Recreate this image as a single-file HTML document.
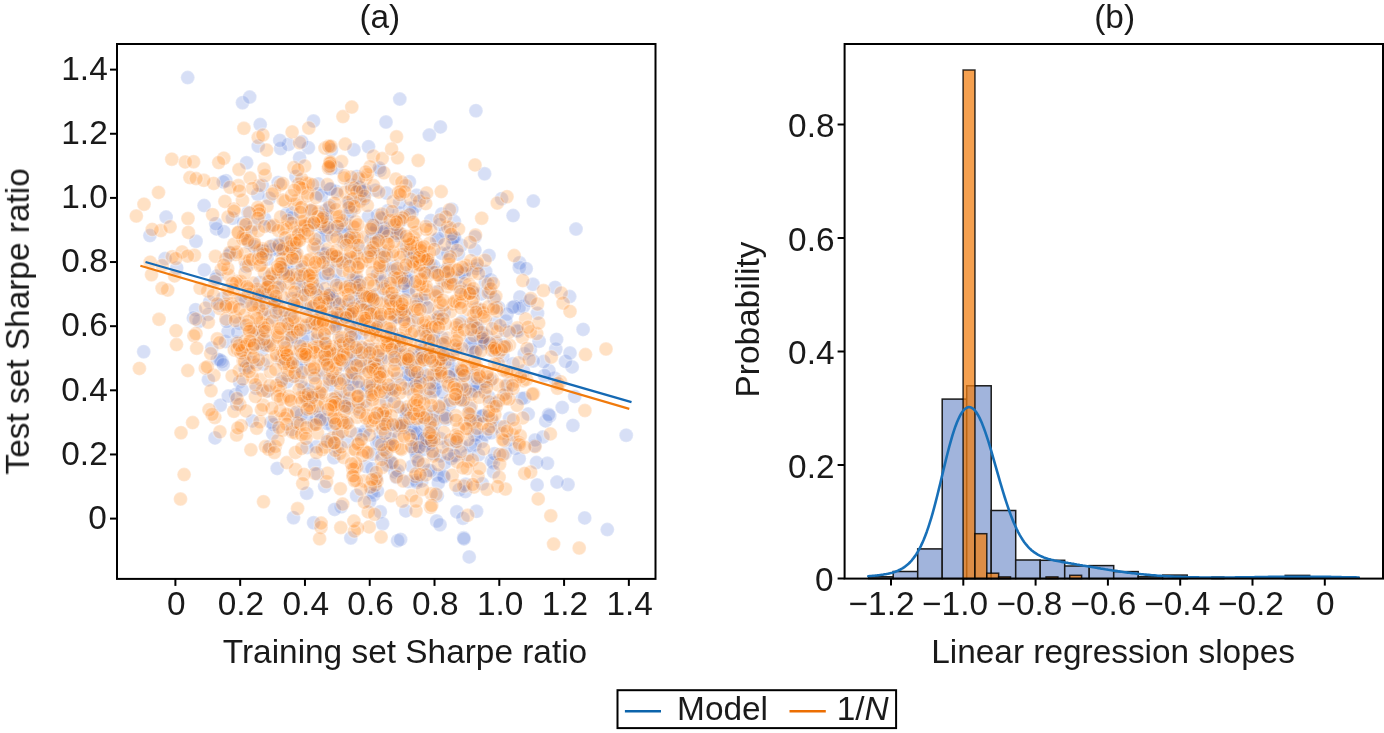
<!DOCTYPE html>
<html><head><meta charset="utf-8"><style>
html,body{margin:0;padding:0;background:#fff;overflow:hidden;}
svg{display:block;}
text{font-family:"Liberation Sans",sans-serif;font-size:33.4px;fill:#1a1a1a;}
</style></head><body>
<svg width="1384" height="733" viewBox="0 0 1384 733">
<defs><filter id="soft" x="0" y="0" width="1" height="1"><feGaussianBlur stdDeviation="0.6"/></filter><clipPath id="clipA"><rect x="117.0" y="44.0" width="538.5" height="534.9"/></clipPath></defs>
<g clip-path="url(#clipA)"><g filter="url(#soft)">
<g fill="rgb(60,100,210)" fill-opacity="0.2" stroke="#fff" stroke-opacity="0.25" stroke-width="1.3">
<circle cx="246.3" cy="266.4" r="7.0"/>
<circle cx="336.2" cy="191.4" r="7.0"/>
<circle cx="517.8" cy="331.4" r="7.0"/>
<circle cx="485.4" cy="434.4" r="7.0"/>
<circle cx="325.8" cy="229.0" r="7.0"/>
<circle cx="583.1" cy="329.4" r="7.0"/>
<circle cx="301.2" cy="230.5" r="7.0"/>
<circle cx="476.5" cy="511.3" r="7.0"/>
<circle cx="443.3" cy="344.4" r="7.0"/>
<circle cx="519.6" cy="262.8" r="7.0"/>
<circle cx="461.2" cy="245.3" r="7.0"/>
<circle cx="356.3" cy="279.8" r="7.0"/>
<circle cx="436.6" cy="521.0" r="7.0"/>
<circle cx="415.1" cy="451.0" r="7.0"/>
<circle cx="477.3" cy="265.2" r="7.0"/>
<circle cx="486.7" cy="336.1" r="7.0"/>
<circle cx="392.3" cy="227.0" r="7.0"/>
<circle cx="326.4" cy="235.5" r="7.0"/>
<circle cx="331.4" cy="150.1" r="7.0"/>
<circle cx="256.3" cy="388.3" r="7.0"/>
<circle cx="277.3" cy="250.1" r="7.0"/>
<circle cx="443.3" cy="271.2" r="7.0"/>
<circle cx="555.1" cy="287.4" r="7.0"/>
<circle cx="281.9" cy="379.0" r="7.0"/>
<circle cx="490.0" cy="291.9" r="7.0"/>
<circle cx="554.6" cy="378.2" r="7.0"/>
<circle cx="321.8" cy="277.9" r="7.0"/>
<circle cx="394.9" cy="471.8" r="7.0"/>
<circle cx="360.2" cy="196.4" r="7.0"/>
<circle cx="524.3" cy="353.8" r="7.0"/>
<circle cx="410.4" cy="429.0" r="7.0"/>
<circle cx="417.9" cy="446.8" r="7.0"/>
<circle cx="366.6" cy="363.4" r="7.0"/>
<circle cx="548.9" cy="370.6" r="7.0"/>
<circle cx="482.3" cy="483.8" r="7.0"/>
<circle cx="462.2" cy="400.4" r="7.0"/>
<circle cx="532.9" cy="284.3" r="7.0"/>
<circle cx="405.8" cy="315.7" r="7.0"/>
<circle cx="379.8" cy="415.3" r="7.0"/>
<circle cx="485.4" cy="382.7" r="7.0"/>
<circle cx="421.0" cy="298.7" r="7.0"/>
<circle cx="242.5" cy="102.7" r="7.0"/>
<circle cx="400.6" cy="221.1" r="7.0"/>
<circle cx="359.2" cy="322.4" r="7.0"/>
<circle cx="401.7" cy="308.8" r="7.0"/>
<circle cx="411.4" cy="363.5" r="7.0"/>
<circle cx="448.5" cy="445.4" r="7.0"/>
<circle cx="398.2" cy="280.8" r="7.0"/>
<circle cx="422.4" cy="439.0" r="7.0"/>
<circle cx="337.4" cy="227.1" r="7.0"/>
<circle cx="362.4" cy="293.5" r="7.0"/>
<circle cx="379.2" cy="238.8" r="7.0"/>
<circle cx="298.3" cy="377.7" r="7.0"/>
<circle cx="443.4" cy="403.7" r="7.0"/>
<circle cx="312.0" cy="396.3" r="7.0"/>
<circle cx="434.8" cy="423.8" r="7.0"/>
<circle cx="509.6" cy="418.3" r="7.0"/>
<circle cx="482.7" cy="332.7" r="7.0"/>
<circle cx="346.6" cy="314.9" r="7.0"/>
<circle cx="302.0" cy="296.0" r="7.0"/>
<circle cx="523.6" cy="306.3" r="7.0"/>
<circle cx="425.5" cy="393.4" r="7.0"/>
<circle cx="199.2" cy="321.2" r="7.0"/>
<circle cx="433.5" cy="336.0" r="7.0"/>
<circle cx="407.1" cy="367.2" r="7.0"/>
<circle cx="377.0" cy="443.2" r="7.0"/>
<circle cx="505.2" cy="453.1" r="7.0"/>
<circle cx="314.6" cy="375.3" r="7.0"/>
<circle cx="216.9" cy="276.1" r="7.0"/>
<circle cx="334.5" cy="321.5" r="7.0"/>
<circle cx="343.5" cy="241.9" r="7.0"/>
<circle cx="225.4" cy="341.6" r="7.0"/>
<circle cx="435.2" cy="389.8" r="7.0"/>
<circle cx="424.4" cy="271.1" r="7.0"/>
<circle cx="329.9" cy="360.3" r="7.0"/>
<circle cx="475.4" cy="322.4" r="7.0"/>
<circle cx="445.8" cy="419.6" r="7.0"/>
<circle cx="440.4" cy="126.9" r="7.0"/>
<circle cx="381.2" cy="234.0" r="7.0"/>
<circle cx="305.4" cy="276.4" r="7.0"/>
<circle cx="419.7" cy="440.5" r="7.0"/>
<circle cx="334.0" cy="300.4" r="7.0"/>
<circle cx="254.5" cy="224.6" r="7.0"/>
<circle cx="304.9" cy="285.8" r="7.0"/>
<circle cx="443.2" cy="475.9" r="7.0"/>
<circle cx="446.7" cy="417.1" r="7.0"/>
<circle cx="476.3" cy="268.6" r="7.0"/>
<circle cx="374.2" cy="250.7" r="7.0"/>
<circle cx="316.5" cy="446.7" r="7.0"/>
<circle cx="371.6" cy="492.3" r="7.0"/>
<circle cx="402.3" cy="285.7" r="7.0"/>
<circle cx="504.7" cy="345.0" r="7.0"/>
<circle cx="355.3" cy="378.7" r="7.0"/>
<circle cx="377.8" cy="215.2" r="7.0"/>
<circle cx="351.1" cy="184.9" r="7.0"/>
<circle cx="304.2" cy="359.9" r="7.0"/>
<circle cx="333.8" cy="457.7" r="7.0"/>
<circle cx="419.2" cy="258.1" r="7.0"/>
<circle cx="451.3" cy="370.8" r="7.0"/>
<circle cx="366.2" cy="466.6" r="7.0"/>
<circle cx="413.6" cy="448.2" r="7.0"/>
<circle cx="327.5" cy="439.9" r="7.0"/>
<circle cx="350.8" cy="538.0" r="7.0"/>
<circle cx="430.7" cy="265.3" r="7.0"/>
<circle cx="461.6" cy="446.1" r="7.0"/>
<circle cx="440.2" cy="438.5" r="7.0"/>
<circle cx="372.1" cy="304.0" r="7.0"/>
<circle cx="505.4" cy="330.8" r="7.0"/>
<circle cx="405.5" cy="277.4" r="7.0"/>
<circle cx="209.7" cy="302.0" r="7.0"/>
<circle cx="380.9" cy="253.1" r="7.0"/>
<circle cx="338.3" cy="318.8" r="7.0"/>
<circle cx="456.8" cy="511.8" r="7.0"/>
<circle cx="365.2" cy="304.4" r="7.0"/>
<circle cx="245.8" cy="232.8" r="7.0"/>
<circle cx="568.0" cy="484.5" r="7.0"/>
<circle cx="220.3" cy="405.2" r="7.0"/>
<circle cx="499.6" cy="426.8" r="7.0"/>
<circle cx="455.9" cy="369.2" r="7.0"/>
<circle cx="394.5" cy="350.2" r="7.0"/>
<circle cx="317.8" cy="247.1" r="7.0"/>
<circle cx="442.0" cy="337.7" r="7.0"/>
<circle cx="572.9" cy="425.4" r="7.0"/>
<circle cx="345.7" cy="224.1" r="7.0"/>
<circle cx="386.9" cy="465.0" r="7.0"/>
<circle cx="264.6" cy="218.7" r="7.0"/>
<circle cx="399.8" cy="99.1" r="7.0"/>
<circle cx="463.7" cy="537.8" r="7.0"/>
<circle cx="464.0" cy="391.0" r="7.0"/>
<circle cx="381.7" cy="218.8" r="7.0"/>
<circle cx="429.9" cy="444.0" r="7.0"/>
<circle cx="380.4" cy="432.8" r="7.0"/>
<circle cx="475.2" cy="375.6" r="7.0"/>
<circle cx="404.2" cy="427.6" r="7.0"/>
<circle cx="430.8" cy="220.4" r="7.0"/>
<circle cx="308.3" cy="291.0" r="7.0"/>
<circle cx="397.3" cy="235.4" r="7.0"/>
<circle cx="318.4" cy="183.9" r="7.0"/>
<circle cx="537.1" cy="484.9" r="7.0"/>
<circle cx="314.0" cy="423.6" r="7.0"/>
<circle cx="409.5" cy="380.1" r="7.0"/>
<circle cx="358.4" cy="409.0" r="7.0"/>
<circle cx="372.9" cy="454.3" r="7.0"/>
<circle cx="470.8" cy="418.9" r="7.0"/>
<circle cx="360.4" cy="189.8" r="7.0"/>
<circle cx="320.2" cy="418.1" r="7.0"/>
<circle cx="244.5" cy="353.7" r="7.0"/>
<circle cx="280.5" cy="359.0" r="7.0"/>
<circle cx="239.6" cy="381.9" r="7.0"/>
<circle cx="448.9" cy="376.5" r="7.0"/>
<circle cx="228.1" cy="331.6" r="7.0"/>
<circle cx="410.9" cy="259.6" r="7.0"/>
<circle cx="262.4" cy="349.8" r="7.0"/>
<circle cx="149.9" cy="235.6" r="7.0"/>
<circle cx="363.1" cy="434.7" r="7.0"/>
<circle cx="545.7" cy="420.9" r="7.0"/>
<circle cx="318.8" cy="394.1" r="7.0"/>
<circle cx="380.0" cy="372.3" r="7.0"/>
<circle cx="269.8" cy="446.4" r="7.0"/>
<circle cx="495.5" cy="323.2" r="7.0"/>
<circle cx="481.3" cy="293.9" r="7.0"/>
<circle cx="498.8" cy="307.6" r="7.0"/>
<circle cx="258.7" cy="337.8" r="7.0"/>
<circle cx="310.8" cy="223.4" r="7.0"/>
<circle cx="368.8" cy="252.4" r="7.0"/>
<circle cx="444.2" cy="312.7" r="7.0"/>
<circle cx="359.8" cy="368.3" r="7.0"/>
<circle cx="353.2" cy="355.2" r="7.0"/>
<circle cx="349.9" cy="363.8" r="7.0"/>
<circle cx="488.8" cy="397.0" r="7.0"/>
<circle cx="534.7" cy="445.8" r="7.0"/>
<circle cx="408.0" cy="410.5" r="7.0"/>
<circle cx="351.3" cy="234.3" r="7.0"/>
<circle cx="221.9" cy="361.4" r="7.0"/>
<circle cx="404.6" cy="420.0" r="7.0"/>
<circle cx="477.1" cy="434.5" r="7.0"/>
<circle cx="299.4" cy="344.4" r="7.0"/>
<circle cx="208.2" cy="314.4" r="7.0"/>
<circle cx="416.5" cy="456.5" r="7.0"/>
<circle cx="412.0" cy="466.3" r="7.0"/>
<circle cx="481.5" cy="441.8" r="7.0"/>
<circle cx="436.7" cy="240.1" r="7.0"/>
<circle cx="259.0" cy="252.8" r="7.0"/>
<circle cx="421.4" cy="416.8" r="7.0"/>
<circle cx="501.6" cy="198.7" r="7.0"/>
<circle cx="361.9" cy="333.6" r="7.0"/>
<circle cx="502.8" cy="356.3" r="7.0"/>
<circle cx="347.4" cy="214.6" r="7.0"/>
<circle cx="382.7" cy="232.4" r="7.0"/>
<circle cx="528.2" cy="414.1" r="7.0"/>
<circle cx="208.4" cy="379.7" r="7.0"/>
<circle cx="454.5" cy="238.2" r="7.0"/>
<circle cx="368.5" cy="216.6" r="7.0"/>
<circle cx="441.7" cy="214.0" r="7.0"/>
<circle cx="236.9" cy="341.9" r="7.0"/>
<circle cx="408.3" cy="481.6" r="7.0"/>
<circle cx="371.9" cy="468.7" r="7.0"/>
<circle cx="480.8" cy="338.3" r="7.0"/>
<circle cx="399.7" cy="425.0" r="7.0"/>
<circle cx="371.1" cy="349.2" r="7.0"/>
<circle cx="416.3" cy="480.5" r="7.0"/>
<circle cx="462.9" cy="518.2" r="7.0"/>
<circle cx="324.3" cy="216.1" r="7.0"/>
<circle cx="252.3" cy="420.9" r="7.0"/>
<circle cx="555.8" cy="349.2" r="7.0"/>
<circle cx="327.8" cy="224.8" r="7.0"/>
<circle cx="572.2" cy="366.9" r="7.0"/>
<circle cx="278.2" cy="182.4" r="7.0"/>
<circle cx="302.3" cy="339.7" r="7.0"/>
<circle cx="415.6" cy="359.9" r="7.0"/>
<circle cx="449.8" cy="404.5" r="7.0"/>
<circle cx="519.9" cy="296.9" r="7.0"/>
<circle cx="355.4" cy="359.0" r="7.0"/>
<circle cx="328.4" cy="256.3" r="7.0"/>
<circle cx="370.8" cy="239.7" r="7.0"/>
<circle cx="342.4" cy="305.4" r="7.0"/>
<circle cx="409.7" cy="252.0" r="7.0"/>
<circle cx="433.7" cy="265.7" r="7.0"/>
<circle cx="427.1" cy="261.1" r="7.0"/>
<circle cx="414.9" cy="382.5" r="7.0"/>
<circle cx="217.5" cy="359.2" r="7.0"/>
<circle cx="530.4" cy="349.7" r="7.0"/>
<circle cx="376.3" cy="294.8" r="7.0"/>
<circle cx="296.0" cy="412.8" r="7.0"/>
<circle cx="317.3" cy="290.1" r="7.0"/>
<circle cx="176.7" cy="268.0" r="7.0"/>
<circle cx="389.5" cy="232.3" r="7.0"/>
<circle cx="439.1" cy="351.2" r="7.0"/>
<circle cx="395.3" cy="352.9" r="7.0"/>
<circle cx="376.4" cy="478.4" r="7.0"/>
<circle cx="505.8" cy="321.3" r="7.0"/>
<circle cx="285.4" cy="360.8" r="7.0"/>
<circle cx="295.7" cy="328.7" r="7.0"/>
<circle cx="338.1" cy="378.4" r="7.0"/>
<circle cx="413.0" cy="320.4" r="7.0"/>
<circle cx="492.3" cy="421.0" r="7.0"/>
<circle cx="397.6" cy="540.8" r="7.0"/>
<circle cx="356.6" cy="495.5" r="7.0"/>
<circle cx="330.0" cy="301.6" r="7.0"/>
<circle cx="245.7" cy="301.2" r="7.0"/>
<circle cx="491.1" cy="345.1" r="7.0"/>
<circle cx="416.3" cy="432.4" r="7.0"/>
<circle cx="358.2" cy="247.5" r="7.0"/>
<circle cx="215.0" cy="437.9" r="7.0"/>
<circle cx="574.7" cy="396.4" r="7.0"/>
<circle cx="507.8" cy="385.1" r="7.0"/>
<circle cx="439.8" cy="224.4" r="7.0"/>
<circle cx="265.1" cy="294.9" r="7.0"/>
<circle cx="220.1" cy="359.9" r="7.0"/>
<circle cx="254.4" cy="329.8" r="7.0"/>
<circle cx="318.1" cy="193.7" r="7.0"/>
<circle cx="232.5" cy="218.3" r="7.0"/>
<circle cx="454.3" cy="221.4" r="7.0"/>
<circle cx="373.3" cy="388.0" r="7.0"/>
<circle cx="447.3" cy="268.9" r="7.0"/>
<circle cx="287.0" cy="270.4" r="7.0"/>
<circle cx="445.3" cy="231.9" r="7.0"/>
<circle cx="626.2" cy="435.2" r="7.0"/>
<circle cx="329.9" cy="385.0" r="7.0"/>
<circle cx="350.8" cy="327.5" r="7.0"/>
<circle cx="378.8" cy="317.7" r="7.0"/>
<circle cx="317.1" cy="288.9" r="7.0"/>
<circle cx="422.6" cy="350.0" r="7.0"/>
<circle cx="482.2" cy="339.0" r="7.0"/>
<circle cx="373.6" cy="495.0" r="7.0"/>
<circle cx="419.1" cy="354.2" r="7.0"/>
<circle cx="222.7" cy="298.4" r="7.0"/>
<circle cx="576.0" cy="229.1" r="7.0"/>
<circle cx="396.3" cy="477.2" r="7.0"/>
<circle cx="465.8" cy="484.3" r="7.0"/>
<circle cx="291.4" cy="338.3" r="7.0"/>
<circle cx="272.6" cy="249.5" r="7.0"/>
<circle cx="358.9" cy="186.9" r="7.0"/>
<circle cx="292.3" cy="212.9" r="7.0"/>
<circle cx="325.5" cy="304.0" r="7.0"/>
<circle cx="406.3" cy="246.0" r="7.0"/>
<circle cx="334.8" cy="328.2" r="7.0"/>
<circle cx="398.1" cy="317.0" r="7.0"/>
<circle cx="294.7" cy="252.8" r="7.0"/>
<circle cx="337.2" cy="353.2" r="7.0"/>
<circle cx="368.4" cy="297.8" r="7.0"/>
<circle cx="475.0" cy="237.0" r="7.0"/>
<circle cx="399.1" cy="213.0" r="7.0"/>
<circle cx="339.1" cy="352.5" r="7.0"/>
<circle cx="416.6" cy="444.2" r="7.0"/>
<circle cx="359.7" cy="282.3" r="7.0"/>
<circle cx="473.0" cy="422.9" r="7.0"/>
<circle cx="569.7" cy="296.6" r="7.0"/>
<circle cx="491.4" cy="460.8" r="7.0"/>
<circle cx="584.7" cy="517.9" r="7.0"/>
<circle cx="317.5" cy="340.2" r="7.0"/>
<circle cx="355.1" cy="282.6" r="7.0"/>
<circle cx="416.8" cy="358.1" r="7.0"/>
<circle cx="296.0" cy="176.4" r="7.0"/>
<circle cx="437.2" cy="475.0" r="7.0"/>
<circle cx="459.2" cy="489.7" r="7.0"/>
<circle cx="422.5" cy="255.8" r="7.0"/>
<circle cx="493.4" cy="462.7" r="7.0"/>
<circle cx="348.3" cy="316.5" r="7.0"/>
<circle cx="297.2" cy="421.3" r="7.0"/>
<circle cx="309.4" cy="401.3" r="7.0"/>
<circle cx="307.9" cy="336.3" r="7.0"/>
<circle cx="543.7" cy="361.6" r="7.0"/>
<circle cx="348.9" cy="400.3" r="7.0"/>
<circle cx="219.9" cy="305.1" r="7.0"/>
<circle cx="444.2" cy="281.7" r="7.0"/>
<circle cx="400.2" cy="407.2" r="7.0"/>
<circle cx="437.3" cy="495.7" r="7.0"/>
<circle cx="416.7" cy="195.3" r="7.0"/>
<circle cx="415.6" cy="206.2" r="7.0"/>
<circle cx="235.7" cy="394.4" r="7.0"/>
<circle cx="291.3" cy="315.0" r="7.0"/>
<circle cx="460.0" cy="287.6" r="7.0"/>
<circle cx="335.7" cy="271.1" r="7.0"/>
<circle cx="365.4" cy="391.1" r="7.0"/>
<circle cx="404.9" cy="354.1" r="7.0"/>
<circle cx="356.9" cy="176.4" r="7.0"/>
<circle cx="271.0" cy="317.3" r="7.0"/>
<circle cx="467.1" cy="269.2" r="7.0"/>
<circle cx="372.4" cy="233.2" r="7.0"/>
<circle cx="333.2" cy="280.3" r="7.0"/>
<circle cx="378.6" cy="321.4" r="7.0"/>
<circle cx="470.2" cy="445.3" r="7.0"/>
<circle cx="444.5" cy="415.1" r="7.0"/>
<circle cx="455.3" cy="455.8" r="7.0"/>
<circle cx="562.2" cy="407.4" r="7.0"/>
<circle cx="565.5" cy="361.4" r="7.0"/>
<circle cx="391.9" cy="395.4" r="7.0"/>
<circle cx="303.2" cy="370.2" r="7.0"/>
<circle cx="433.8" cy="391.4" r="7.0"/>
<circle cx="262.8" cy="251.3" r="7.0"/>
<circle cx="483.2" cy="343.8" r="7.0"/>
<circle cx="397.9" cy="470.8" r="7.0"/>
<circle cx="365.9" cy="352.0" r="7.0"/>
<circle cx="246.6" cy="162.8" r="7.0"/>
<circle cx="448.0" cy="359.0" r="7.0"/>
<circle cx="313.6" cy="522.8" r="7.0"/>
<circle cx="380.3" cy="511.8" r="7.0"/>
<circle cx="262.4" cy="330.1" r="7.0"/>
<circle cx="308.4" cy="147.7" r="7.0"/>
<circle cx="316.8" cy="417.4" r="7.0"/>
<circle cx="408.8" cy="289.3" r="7.0"/>
<circle cx="344.9" cy="234.4" r="7.0"/>
<circle cx="332.3" cy="426.1" r="7.0"/>
<circle cx="308.5" cy="389.8" r="7.0"/>
<circle cx="444.0" cy="476.8" r="7.0"/>
<circle cx="262.0" cy="292.5" r="7.0"/>
<circle cx="493.5" cy="471.7" r="7.0"/>
<circle cx="351.5" cy="345.4" r="7.0"/>
<circle cx="340.2" cy="258.9" r="7.0"/>
<circle cx="397.6" cy="299.2" r="7.0"/>
<circle cx="291.3" cy="429.5" r="7.0"/>
<circle cx="444.5" cy="353.8" r="7.0"/>
<circle cx="423.4" cy="330.9" r="7.0"/>
<circle cx="477.5" cy="308.3" r="7.0"/>
<circle cx="515.1" cy="448.2" r="7.0"/>
<circle cx="495.9" cy="403.1" r="7.0"/>
<circle cx="216.5" cy="228.9" r="7.0"/>
<circle cx="469.2" cy="556.9" r="7.0"/>
<circle cx="314.6" cy="464.3" r="7.0"/>
<circle cx="361.8" cy="348.1" r="7.0"/>
<circle cx="332.4" cy="380.5" r="7.0"/>
<circle cx="494.5" cy="453.8" r="7.0"/>
<circle cx="319.7" cy="300.1" r="7.0"/>
<circle cx="165.1" cy="258.6" r="7.0"/>
<circle cx="269.3" cy="198.2" r="7.0"/>
<circle cx="519.2" cy="458.8" r="7.0"/>
<circle cx="336.9" cy="167.8" r="7.0"/>
<circle cx="282.4" cy="269.2" r="7.0"/>
<circle cx="433.4" cy="383.4" r="7.0"/>
<circle cx="236.9" cy="404.3" r="7.0"/>
<circle cx="272.7" cy="433.6" r="7.0"/>
<circle cx="405.8" cy="510.9" r="7.0"/>
<circle cx="478.1" cy="327.8" r="7.0"/>
<circle cx="399.2" cy="233.5" r="7.0"/>
<circle cx="389.6" cy="443.6" r="7.0"/>
<circle cx="325.1" cy="358.8" r="7.0"/>
<circle cx="286.7" cy="214.0" r="7.0"/>
<circle cx="441.1" cy="363.2" r="7.0"/>
<circle cx="437.7" cy="319.1" r="7.0"/>
<circle cx="405.6" cy="314.2" r="7.0"/>
<circle cx="325.7" cy="253.2" r="7.0"/>
<circle cx="386.0" cy="122.0" r="7.0"/>
<circle cx="469.8" cy="391.4" r="7.0"/>
<circle cx="424.3" cy="438.0" r="7.0"/>
<circle cx="341.2" cy="506.7" r="7.0"/>
<circle cx="491.0" cy="280.1" r="7.0"/>
<circle cx="288.6" cy="144.4" r="7.0"/>
<circle cx="397.4" cy="346.1" r="7.0"/>
<circle cx="386.5" cy="401.2" r="7.0"/>
<circle cx="226.6" cy="321.3" r="7.0"/>
<circle cx="241.7" cy="299.1" r="7.0"/>
<circle cx="412.9" cy="255.3" r="7.0"/>
<circle cx="397.9" cy="339.5" r="7.0"/>
<circle cx="485.4" cy="281.9" r="7.0"/>
<circle cx="341.0" cy="341.1" r="7.0"/>
<circle cx="223.8" cy="231.7" r="7.0"/>
<circle cx="467.1" cy="455.1" r="7.0"/>
<circle cx="254.7" cy="344.3" r="7.0"/>
<circle cx="407.6" cy="272.2" r="7.0"/>
<circle cx="187.7" cy="77.6" r="7.0"/>
<circle cx="352.2" cy="384.3" r="7.0"/>
<circle cx="301.7" cy="141.8" r="7.0"/>
<circle cx="458.1" cy="348.3" r="7.0"/>
<circle cx="384.9" cy="228.0" r="7.0"/>
<circle cx="436.6" cy="383.0" r="7.0"/>
<circle cx="372.8" cy="224.3" r="7.0"/>
<circle cx="228.3" cy="396.1" r="7.0"/>
<circle cx="286.4" cy="263.5" r="7.0"/>
<circle cx="409.4" cy="374.8" r="7.0"/>
<circle cx="275.7" cy="300.2" r="7.0"/>
<circle cx="360.6" cy="298.5" r="7.0"/>
<circle cx="211.8" cy="348.0" r="7.0"/>
<circle cx="514.5" cy="306.4" r="7.0"/>
<circle cx="337.5" cy="325.2" r="7.0"/>
<circle cx="313.0" cy="308.0" r="7.0"/>
<circle cx="204.3" cy="269.9" r="7.0"/>
<circle cx="334.8" cy="312.9" r="7.0"/>
<circle cx="484.7" cy="341.6" r="7.0"/>
<circle cx="286.1" cy="271.8" r="7.0"/>
<circle cx="239.6" cy="323.3" r="7.0"/>
<circle cx="195.6" cy="309.7" r="7.0"/>
<circle cx="336.0" cy="396.7" r="7.0"/>
<circle cx="549.7" cy="416.1" r="7.0"/>
<circle cx="471.8" cy="347.8" r="7.0"/>
<circle cx="473.3" cy="383.9" r="7.0"/>
<circle cx="301.7" cy="286.7" r="7.0"/>
<circle cx="286.1" cy="249.3" r="7.0"/>
<circle cx="433.1" cy="411.6" r="7.0"/>
<circle cx="292.3" cy="217.6" r="7.0"/>
<circle cx="386.1" cy="425.1" r="7.0"/>
<circle cx="557.0" cy="482.1" r="7.0"/>
<circle cx="267.4" cy="390.8" r="7.0"/>
<circle cx="326.8" cy="217.9" r="7.0"/>
<circle cx="320.0" cy="412.6" r="7.0"/>
<circle cx="397.5" cy="378.8" r="7.0"/>
<circle cx="570.0" cy="353.0" r="7.0"/>
<circle cx="375.7" cy="321.4" r="7.0"/>
<circle cx="304.0" cy="387.9" r="7.0"/>
<circle cx="413.9" cy="428.8" r="7.0"/>
<circle cx="519.3" cy="267.5" r="7.0"/>
<circle cx="389.3" cy="389.0" r="7.0"/>
<circle cx="535.1" cy="440.0" r="7.0"/>
<circle cx="471.6" cy="338.3" r="7.0"/>
<circle cx="388.7" cy="444.1" r="7.0"/>
<circle cx="302.4" cy="270.1" r="7.0"/>
<circle cx="408.5" cy="291.2" r="7.0"/>
<circle cx="166.1" cy="217.1" r="7.0"/>
<circle cx="292.5" cy="298.8" r="7.0"/>
<circle cx="365.3" cy="430.8" r="7.0"/>
<circle cx="396.6" cy="233.6" r="7.0"/>
<circle cx="358.4" cy="387.4" r="7.0"/>
<circle cx="433.5" cy="272.4" r="7.0"/>
<circle cx="376.7" cy="228.0" r="7.0"/>
<circle cx="423.8" cy="449.4" r="7.0"/>
<circle cx="454.0" cy="455.3" r="7.0"/>
<circle cx="288.9" cy="328.7" r="7.0"/>
<circle cx="324.7" cy="486.4" r="7.0"/>
<circle cx="409.4" cy="181.7" r="7.0"/>
<circle cx="347.3" cy="341.7" r="7.0"/>
<circle cx="474.6" cy="435.3" r="7.0"/>
<circle cx="419.1" cy="377.8" r="7.0"/>
<circle cx="400.6" cy="539.4" r="7.0"/>
<circle cx="539.1" cy="341.2" r="7.0"/>
<circle cx="385.6" cy="451.0" r="7.0"/>
<circle cx="375.6" cy="190.2" r="7.0"/>
<circle cx="494.0" cy="299.0" r="7.0"/>
<circle cx="248.9" cy="242.6" r="7.0"/>
<circle cx="348.1" cy="304.8" r="7.0"/>
<circle cx="349.4" cy="201.2" r="7.0"/>
<circle cx="477.0" cy="386.1" r="7.0"/>
<circle cx="225.9" cy="180.7" r="7.0"/>
<circle cx="279.7" cy="287.0" r="7.0"/>
<circle cx="334.5" cy="257.1" r="7.0"/>
<circle cx="372.6" cy="296.2" r="7.0"/>
<circle cx="473.3" cy="327.3" r="7.0"/>
<circle cx="196.0" cy="241.3" r="7.0"/>
<circle cx="455.9" cy="441.0" r="7.0"/>
<circle cx="245.3" cy="368.4" r="7.0"/>
<circle cx="407.7" cy="355.4" r="7.0"/>
<circle cx="330.7" cy="189.1" r="7.0"/>
<circle cx="523.5" cy="371.0" r="7.0"/>
<circle cx="438.3" cy="483.0" r="7.0"/>
<circle cx="331.0" cy="168.6" r="7.0"/>
<circle cx="306.7" cy="353.1" r="7.0"/>
<circle cx="519.1" cy="308.3" r="7.0"/>
<circle cx="461.8" cy="321.7" r="7.0"/>
<circle cx="395.0" cy="359.7" r="7.0"/>
<circle cx="262.4" cy="185.6" r="7.0"/>
<circle cx="484.6" cy="173.8" r="7.0"/>
<circle cx="524.8" cy="397.9" r="7.0"/>
<circle cx="387.8" cy="210.8" r="7.0"/>
<circle cx="354.1" cy="298.3" r="7.0"/>
<circle cx="430.3" cy="345.9" r="7.0"/>
<circle cx="433.8" cy="416.5" r="7.0"/>
<circle cx="349.5" cy="204.8" r="7.0"/>
<circle cx="377.6" cy="384.2" r="7.0"/>
<circle cx="408.5" cy="280.3" r="7.0"/>
<circle cx="369.6" cy="307.5" r="7.0"/>
<circle cx="438.4" cy="369.0" r="7.0"/>
<circle cx="335.4" cy="301.9" r="7.0"/>
<circle cx="430.5" cy="470.8" r="7.0"/>
<circle cx="426.8" cy="441.1" r="7.0"/>
<circle cx="321.4" cy="195.5" r="7.0"/>
<circle cx="490.4" cy="380.3" r="7.0"/>
<circle cx="317.3" cy="324.5" r="7.0"/>
<circle cx="269.8" cy="276.8" r="7.0"/>
<circle cx="307.1" cy="447.5" r="7.0"/>
<circle cx="406.3" cy="413.4" r="7.0"/>
<circle cx="380.0" cy="170.4" r="7.0"/>
<circle cx="356.7" cy="434.0" r="7.0"/>
<circle cx="325.8" cy="210.3" r="7.0"/>
<circle cx="347.4" cy="441.5" r="7.0"/>
<circle cx="334.6" cy="509.4" r="7.0"/>
<circle cx="237.7" cy="332.1" r="7.0"/>
<circle cx="478.6" cy="416.6" r="7.0"/>
<circle cx="491.4" cy="432.8" r="7.0"/>
<circle cx="470.1" cy="343.7" r="7.0"/>
<circle cx="337.4" cy="447.5" r="7.0"/>
<circle cx="257.8" cy="194.3" r="7.0"/>
<circle cx="454.2" cy="237.3" r="7.0"/>
<circle cx="536.5" cy="462.6" r="7.0"/>
<circle cx="263.4" cy="250.8" r="7.0"/>
<circle cx="323.8" cy="338.8" r="7.0"/>
<circle cx="482.7" cy="416.0" r="7.0"/>
<circle cx="277.6" cy="279.0" r="7.0"/>
<circle cx="273.5" cy="424.7" r="7.0"/>
<circle cx="368.5" cy="146.7" r="7.0"/>
<circle cx="440.0" cy="524.8" r="7.0"/>
<circle cx="441.8" cy="253.2" r="7.0"/>
<circle cx="458.3" cy="254.3" r="7.0"/>
<circle cx="521.9" cy="398.4" r="7.0"/>
<circle cx="324.4" cy="373.7" r="7.0"/>
<circle cx="348.5" cy="316.0" r="7.0"/>
<circle cx="385.0" cy="265.5" r="7.0"/>
<circle cx="509.1" cy="439.9" r="7.0"/>
<circle cx="341.0" cy="282.6" r="7.0"/>
<circle cx="391.5" cy="271.1" r="7.0"/>
<circle cx="256.6" cy="301.5" r="7.0"/>
<circle cx="230.8" cy="253.0" r="7.0"/>
<circle cx="451.7" cy="209.3" r="7.0"/>
<circle cx="215.8" cy="223.7" r="7.0"/>
<circle cx="431.2" cy="444.2" r="7.0"/>
<circle cx="433.2" cy="453.7" r="7.0"/>
<circle cx="341.3" cy="400.3" r="7.0"/>
<circle cx="476.3" cy="350.2" r="7.0"/>
<circle cx="449.1" cy="359.2" r="7.0"/>
<circle cx="334.2" cy="229.9" r="7.0"/>
<circle cx="548.6" cy="414.5" r="7.0"/>
<circle cx="353.4" cy="278.3" r="7.0"/>
<circle cx="329.7" cy="298.3" r="7.0"/>
<circle cx="416.9" cy="433.6" r="7.0"/>
<circle cx="485.7" cy="271.5" r="7.0"/>
<circle cx="350.8" cy="211.6" r="7.0"/>
<circle cx="264.1" cy="344.9" r="7.0"/>
<circle cx="441.6" cy="361.1" r="7.0"/>
<circle cx="296.4" cy="263.6" r="7.0"/>
<circle cx="307.0" cy="327.4" r="7.0"/>
<circle cx="415.2" cy="377.7" r="7.0"/>
<circle cx="328.7" cy="294.3" r="7.0"/>
<circle cx="375.3" cy="364.8" r="7.0"/>
<circle cx="380.4" cy="356.0" r="7.0"/>
<circle cx="438.3" cy="317.0" r="7.0"/>
<circle cx="475.2" cy="444.9" r="7.0"/>
<circle cx="277.2" cy="468.4" r="7.0"/>
<circle cx="332.2" cy="297.4" r="7.0"/>
<circle cx="418.8" cy="462.7" r="7.0"/>
<circle cx="351.9" cy="310.1" r="7.0"/>
<circle cx="408.3" cy="388.7" r="7.0"/>
<circle cx="349.6" cy="313.8" r="7.0"/>
<circle cx="275.1" cy="303.3" r="7.0"/>
<circle cx="307.3" cy="400.4" r="7.0"/>
<circle cx="293.5" cy="517.7" r="7.0"/>
<circle cx="384.0" cy="416.6" r="7.0"/>
<circle cx="435.2" cy="374.8" r="7.0"/>
<circle cx="393.1" cy="341.1" r="7.0"/>
<circle cx="432.8" cy="432.3" r="7.0"/>
<circle cx="447.8" cy="253.2" r="7.0"/>
<circle cx="556.6" cy="339.4" r="7.0"/>
<circle cx="542.9" cy="437.0" r="7.0"/>
<circle cx="347.5" cy="389.6" r="7.0"/>
<circle cx="377.4" cy="490.9" r="7.0"/>
<circle cx="280.6" cy="148.6" r="7.0"/>
<circle cx="204.1" cy="205.6" r="7.0"/>
<circle cx="533.2" cy="361.0" r="7.0"/>
<circle cx="351.8" cy="334.9" r="7.0"/>
<circle cx="461.0" cy="384.9" r="7.0"/>
<circle cx="430.7" cy="356.4" r="7.0"/>
<circle cx="324.4" cy="346.4" r="7.0"/>
<circle cx="377.5" cy="369.1" r="7.0"/>
<circle cx="422.5" cy="372.9" r="7.0"/>
<circle cx="421.8" cy="480.9" r="7.0"/>
<circle cx="513.0" cy="363.8" r="7.0"/>
<circle cx="367.0" cy="385.4" r="7.0"/>
<circle cx="286.7" cy="242.7" r="7.0"/>
<circle cx="223.2" cy="181.9" r="7.0"/>
<circle cx="482.6" cy="415.8" r="7.0"/>
<circle cx="301.1" cy="414.5" r="7.0"/>
<circle cx="464.0" cy="538.9" r="7.0"/>
<circle cx="359.3" cy="187.6" r="7.0"/>
<circle cx="451.4" cy="458.5" r="7.0"/>
<circle cx="444.9" cy="462.9" r="7.0"/>
<circle cx="265.2" cy="293.1" r="7.0"/>
<circle cx="489.0" cy="255.4" r="7.0"/>
<circle cx="193.4" cy="317.9" r="7.0"/>
<circle cx="326.8" cy="423.4" r="7.0"/>
<circle cx="404.6" cy="363.5" r="7.0"/>
<circle cx="329.7" cy="205.8" r="7.0"/>
<circle cx="394.5" cy="430.9" r="7.0"/>
<circle cx="378.9" cy="441.5" r="7.0"/>
<circle cx="429.3" cy="135.1" r="7.0"/>
<circle cx="529.8" cy="300.5" r="7.0"/>
<circle cx="287.0" cy="381.8" r="7.0"/>
<circle cx="365.1" cy="190.3" r="7.0"/>
<circle cx="388.6" cy="297.3" r="7.0"/>
<circle cx="382.6" cy="283.1" r="7.0"/>
<circle cx="458.0" cy="277.4" r="7.0"/>
<circle cx="416.7" cy="301.4" r="7.0"/>
<circle cx="516.9" cy="330.6" r="7.0"/>
<circle cx="326.8" cy="352.3" r="7.0"/>
<circle cx="424.2" cy="299.9" r="7.0"/>
<circle cx="324.9" cy="419.7" r="7.0"/>
<circle cx="533.3" cy="201.1" r="7.0"/>
<circle cx="243.5" cy="223.0" r="7.0"/>
<circle cx="396.1" cy="425.1" r="7.0"/>
<circle cx="271.2" cy="422.2" r="7.0"/>
<circle cx="547.4" cy="463.3" r="7.0"/>
<circle cx="345.9" cy="406.0" r="7.0"/>
<circle cx="299.6" cy="157.9" r="7.0"/>
<circle cx="416.7" cy="482.5" r="7.0"/>
<circle cx="296.8" cy="366.6" r="7.0"/>
<circle cx="258.2" cy="146.1" r="7.0"/>
<circle cx="449.3" cy="278.9" r="7.0"/>
<circle cx="259.7" cy="282.5" r="7.0"/>
<circle cx="370.6" cy="297.6" r="7.0"/>
<circle cx="348.6" cy="379.4" r="7.0"/>
<circle cx="427.5" cy="307.5" r="7.0"/>
<circle cx="287.3" cy="342.0" r="7.0"/>
<circle cx="409.7" cy="208.2" r="7.0"/>
<circle cx="279.6" cy="249.5" r="7.0"/>
<circle cx="507.0" cy="314.2" r="7.0"/>
<circle cx="468.4" cy="290.6" r="7.0"/>
<circle cx="391.7" cy="333.3" r="7.0"/>
<circle cx="395.6" cy="317.0" r="7.0"/>
<circle cx="526.2" cy="268.7" r="7.0"/>
<circle cx="215.7" cy="278.9" r="7.0"/>
<circle cx="274.3" cy="305.1" r="7.0"/>
<circle cx="442.2" cy="391.9" r="7.0"/>
<circle cx="382.1" cy="281.3" r="7.0"/>
<circle cx="494.8" cy="351.1" r="7.0"/>
<circle cx="479.9" cy="387.1" r="7.0"/>
<circle cx="390.6" cy="438.9" r="7.0"/>
<circle cx="453.8" cy="374.8" r="7.0"/>
<circle cx="381.7" cy="359.1" r="7.0"/>
<circle cx="353.9" cy="149.8" r="7.0"/>
<circle cx="537.5" cy="313.3" r="7.0"/>
<circle cx="408.6" cy="374.9" r="7.0"/>
<circle cx="330.1" cy="189.1" r="7.0"/>
<circle cx="320.0" cy="238.1" r="7.0"/>
<circle cx="364.3" cy="401.4" r="7.0"/>
<circle cx="312.5" cy="322.3" r="7.0"/>
<circle cx="496.5" cy="341.9" r="7.0"/>
<circle cx="512.6" cy="307.4" r="7.0"/>
<circle cx="323.6" cy="254.1" r="7.0"/>
<circle cx="294.0" cy="278.3" r="7.0"/>
<circle cx="246.8" cy="366.4" r="7.0"/>
<circle cx="337.6" cy="316.1" r="7.0"/>
<circle cx="345.6" cy="261.1" r="7.0"/>
<circle cx="422.2" cy="380.5" r="7.0"/>
<circle cx="391.5" cy="299.1" r="7.0"/>
<circle cx="381.9" cy="455.5" r="7.0"/>
<circle cx="475.9" cy="110.7" r="7.0"/>
<circle cx="322.6" cy="227.5" r="7.0"/>
<circle cx="452.4" cy="244.4" r="7.0"/>
<circle cx="338.7" cy="435.1" r="7.0"/>
<circle cx="306.7" cy="417.6" r="7.0"/>
<circle cx="473.2" cy="351.5" r="7.0"/>
<circle cx="429.1" cy="334.2" r="7.0"/>
<circle cx="544.5" cy="375.5" r="7.0"/>
<circle cx="355.0" cy="335.6" r="7.0"/>
<circle cx="313.5" cy="121.0" r="7.0"/>
<circle cx="263.7" cy="310.0" r="7.0"/>
<circle cx="352.4" cy="373.2" r="7.0"/>
<circle cx="386.6" cy="193.1" r="7.0"/>
<circle cx="356.3" cy="287.5" r="7.0"/>
<circle cx="459.9" cy="374.5" r="7.0"/>
<circle cx="278.7" cy="311.5" r="7.0"/>
<circle cx="377.4" cy="274.6" r="7.0"/>
<circle cx="379.2" cy="167.9" r="7.0"/>
<circle cx="317.3" cy="473.7" r="7.0"/>
<circle cx="398.0" cy="316.9" r="7.0"/>
<circle cx="310.4" cy="210.5" r="7.0"/>
<circle cx="254.1" cy="246.5" r="7.0"/>
<circle cx="478.5" cy="454.9" r="7.0"/>
<circle cx="382.6" cy="523.8" r="7.0"/>
<circle cx="474.9" cy="250.0" r="7.0"/>
<circle cx="292.1" cy="359.5" r="7.0"/>
<circle cx="475.5" cy="391.0" r="7.0"/>
<circle cx="267.0" cy="259.2" r="7.0"/>
<circle cx="306.7" cy="493.2" r="7.0"/>
<circle cx="464.1" cy="273.7" r="7.0"/>
<circle cx="260.2" cy="124.6" r="7.0"/>
<circle cx="284.0" cy="317.4" r="7.0"/>
<circle cx="366.1" cy="306.7" r="7.0"/>
<circle cx="465.4" cy="491.6" r="7.0"/>
<circle cx="248.1" cy="212.4" r="7.0"/>
<circle cx="346.4" cy="407.0" r="7.0"/>
<circle cx="313.5" cy="225.1" r="7.0"/>
<circle cx="143.7" cy="351.7" r="7.0"/>
<circle cx="390.5" cy="461.6" r="7.0"/>
<circle cx="283.6" cy="269.8" r="7.0"/>
<circle cx="228.5" cy="255.6" r="7.0"/>
<circle cx="607.3" cy="529.6" r="7.0"/>
<circle cx="376.2" cy="330.3" r="7.0"/>
<circle cx="392.4" cy="389.1" r="7.0"/>
<circle cx="428.6" cy="470.3" r="7.0"/>
<circle cx="331.1" cy="442.8" r="7.0"/>
<circle cx="425.4" cy="445.7" r="7.0"/>
<circle cx="513.1" cy="215.6" r="7.0"/>
<circle cx="353.9" cy="261.2" r="7.0"/>
<circle cx="395.6" cy="266.9" r="7.0"/>
<circle cx="223.2" cy="364.6" r="7.0"/>
<circle cx="484.5" cy="343.1" r="7.0"/>
<circle cx="506.4" cy="393.0" r="7.0"/>
<circle cx="386.1" cy="255.2" r="7.0"/>
<circle cx="306.4" cy="308.3" r="7.0"/>
<circle cx="269.7" cy="225.9" r="7.0"/>
<circle cx="440.1" cy="456.0" r="7.0"/>
<circle cx="269.3" cy="281.9" r="7.0"/>
<circle cx="316.9" cy="312.4" r="7.0"/>
<circle cx="369.6" cy="501.5" r="7.0"/>
<circle cx="249.7" cy="97.1" r="7.0"/>
<circle cx="324.9" cy="273.7" r="7.0"/>
<circle cx="460.2" cy="398.0" r="7.0"/>
<circle cx="369.2" cy="365.8" r="7.0"/>
<circle cx="364.0" cy="198.7" r="7.0"/>
<circle cx="421.8" cy="350.1" r="7.0"/>
<circle cx="342.9" cy="231.4" r="7.0"/>
<circle cx="343.8" cy="364.8" r="7.0"/>
<circle cx="242.1" cy="389.8" r="7.0"/>
<circle cx="279.8" cy="140.4" r="7.0"/>
<circle cx="399.6" cy="202.5" r="7.0"/>
<circle cx="327.4" cy="266.4" r="7.0"/>
<circle cx="438.3" cy="238.4" r="7.0"/>
<circle cx="330.5" cy="294.0" r="7.0"/>
<circle cx="424.7" cy="424.5" r="7.0"/>
<circle cx="370.9" cy="318.1" r="7.0"/>
<circle cx="467.0" cy="373.2" r="7.0"/>
<circle cx="252.3" cy="362.3" r="7.0"/>
<circle cx="453.0" cy="238.6" r="7.0"/>
<circle cx="273.1" cy="245.5" r="7.0"/>
<circle cx="436.8" cy="291.5" r="7.0"/>
<circle cx="351.1" cy="239.2" r="7.0"/>
<circle cx="427.3" cy="359.8" r="7.0"/>
<circle cx="423.6" cy="197.5" r="7.0"/>
<circle cx="462.3" cy="272.3" r="7.0"/>
<circle cx="473.2" cy="292.3" r="7.0"/>
<circle cx="294.3" cy="247.2" r="7.0"/>
<circle cx="263.3" cy="364.1" r="7.0"/>
<circle cx="279.0" cy="243.8" r="7.0"/>
<circle cx="408.0" cy="281.4" r="7.0"/>
<circle cx="259.6" cy="296.9" r="7.0"/>
<circle cx="346.3" cy="422.6" r="7.0"/>
<circle cx="412.1" cy="212.1" r="7.0"/>
<circle cx="391.2" cy="463.1" r="7.0"/>
<circle cx="469.7" cy="408.0" r="7.0"/>
<circle cx="268.0" cy="341.5" r="7.0"/>
</g>
<g fill="rgb(255,127,14)" fill-opacity="0.23" stroke="#fff" stroke-opacity="0.3" stroke-width="1.3">
<circle cx="490.5" cy="426.6" r="7.0"/>
<circle cx="485.0" cy="260.3" r="7.0"/>
<circle cx="365.9" cy="178.3" r="7.0"/>
<circle cx="266.5" cy="345.3" r="7.0"/>
<circle cx="400.4" cy="448.2" r="7.0"/>
<circle cx="363.5" cy="293.6" r="7.0"/>
<circle cx="494.7" cy="347.7" r="7.0"/>
<circle cx="167.7" cy="290.1" r="7.0"/>
<circle cx="433.4" cy="455.9" r="7.0"/>
<circle cx="475.5" cy="235.0" r="7.0"/>
<circle cx="426.4" cy="289.5" r="7.0"/>
<circle cx="449.0" cy="264.3" r="7.0"/>
<circle cx="433.7" cy="319.6" r="7.0"/>
<circle cx="320.6" cy="223.5" r="7.0"/>
<circle cx="423.2" cy="322.7" r="7.0"/>
<circle cx="356.9" cy="467.0" r="7.0"/>
<circle cx="350.0" cy="366.4" r="7.0"/>
<circle cx="259.9" cy="421.7" r="7.0"/>
<circle cx="372.3" cy="384.2" r="7.0"/>
<circle cx="414.4" cy="224.5" r="7.0"/>
<circle cx="433.6" cy="374.4" r="7.0"/>
<circle cx="407.5" cy="308.8" r="7.0"/>
<circle cx="259.2" cy="185.5" r="7.0"/>
<circle cx="267.0" cy="206.0" r="7.0"/>
<circle cx="422.4" cy="259.8" r="7.0"/>
<circle cx="301.1" cy="382.0" r="7.0"/>
<circle cx="408.1" cy="406.6" r="7.0"/>
<circle cx="377.0" cy="481.0" r="7.0"/>
<circle cx="404.1" cy="216.8" r="7.0"/>
<circle cx="463.8" cy="375.8" r="7.0"/>
<circle cx="172.2" cy="256.8" r="7.0"/>
<circle cx="307.5" cy="290.6" r="7.0"/>
<circle cx="144.0" cy="204.2" r="7.0"/>
<circle cx="424.8" cy="330.3" r="7.0"/>
<circle cx="341.3" cy="298.6" r="7.0"/>
<circle cx="325.6" cy="329.0" r="7.0"/>
<circle cx="294.6" cy="204.3" r="7.0"/>
<circle cx="239.8" cy="404.4" r="7.0"/>
<circle cx="274.8" cy="417.0" r="7.0"/>
<circle cx="309.5" cy="223.4" r="7.0"/>
<circle cx="214.9" cy="281.6" r="7.0"/>
<circle cx="339.8" cy="223.0" r="7.0"/>
<circle cx="311.1" cy="259.2" r="7.0"/>
<circle cx="415.3" cy="476.3" r="7.0"/>
<circle cx="455.7" cy="327.7" r="7.0"/>
<circle cx="345.2" cy="192.0" r="7.0"/>
<circle cx="522.3" cy="337.4" r="7.0"/>
<circle cx="282.3" cy="249.9" r="7.0"/>
<circle cx="345.2" cy="423.8" r="7.0"/>
<circle cx="385.6" cy="410.7" r="7.0"/>
<circle cx="535.1" cy="446.6" r="7.0"/>
<circle cx="214.8" cy="417.5" r="7.0"/>
<circle cx="302.1" cy="301.7" r="7.0"/>
<circle cx="367.6" cy="174.7" r="7.0"/>
<circle cx="365.7" cy="322.7" r="7.0"/>
<circle cx="259.9" cy="250.4" r="7.0"/>
<circle cx="265.1" cy="289.7" r="7.0"/>
<circle cx="319.2" cy="399.2" r="7.0"/>
<circle cx="322.1" cy="449.5" r="7.0"/>
<circle cx="259.0" cy="210.7" r="7.0"/>
<circle cx="429.4" cy="382.6" r="7.0"/>
<circle cx="338.6" cy="287.9" r="7.0"/>
<circle cx="411.8" cy="416.6" r="7.0"/>
<circle cx="304.1" cy="354.5" r="7.0"/>
<circle cx="409.1" cy="323.6" r="7.0"/>
<circle cx="233.9" cy="411.3" r="7.0"/>
<circle cx="399.5" cy="425.6" r="7.0"/>
<circle cx="228.5" cy="275.1" r="7.0"/>
<circle cx="373.1" cy="362.8" r="7.0"/>
<circle cx="439.6" cy="323.6" r="7.0"/>
<circle cx="281.6" cy="359.1" r="7.0"/>
<circle cx="385.6" cy="286.7" r="7.0"/>
<circle cx="345.1" cy="290.0" r="7.0"/>
<circle cx="414.1" cy="263.0" r="7.0"/>
<circle cx="455.8" cy="349.7" r="7.0"/>
<circle cx="277.4" cy="273.0" r="7.0"/>
<circle cx="266.6" cy="150.1" r="7.0"/>
<circle cx="471.0" cy="406.2" r="7.0"/>
<circle cx="266.9" cy="391.3" r="7.0"/>
<circle cx="392.4" cy="254.9" r="7.0"/>
<circle cx="239.3" cy="370.6" r="7.0"/>
<circle cx="434.0" cy="439.9" r="7.0"/>
<circle cx="346.7" cy="258.5" r="7.0"/>
<circle cx="259.6" cy="210.1" r="7.0"/>
<circle cx="280.2" cy="387.5" r="7.0"/>
<circle cx="340.6" cy="392.2" r="7.0"/>
<circle cx="331.1" cy="162.7" r="7.0"/>
<circle cx="360.4" cy="302.9" r="7.0"/>
<circle cx="323.6" cy="325.1" r="7.0"/>
<circle cx="205.6" cy="308.1" r="7.0"/>
<circle cx="478.4" cy="309.8" r="7.0"/>
<circle cx="461.4" cy="368.9" r="7.0"/>
<circle cx="217.3" cy="338.8" r="7.0"/>
<circle cx="358.9" cy="178.6" r="7.0"/>
<circle cx="397.6" cy="157.8" r="7.0"/>
<circle cx="447.4" cy="227.1" r="7.0"/>
<circle cx="525.6" cy="318.9" r="7.0"/>
<circle cx="337.1" cy="364.9" r="7.0"/>
<circle cx="361.6" cy="346.8" r="7.0"/>
<circle cx="469.8" cy="414.2" r="7.0"/>
<circle cx="466.8" cy="366.1" r="7.0"/>
<circle cx="326.9" cy="298.3" r="7.0"/>
<circle cx="265.4" cy="446.6" r="7.0"/>
<circle cx="427.9" cy="307.4" r="7.0"/>
<circle cx="473.9" cy="314.6" r="7.0"/>
<circle cx="396.5" cy="136.8" r="7.0"/>
<circle cx="304.5" cy="395.6" r="7.0"/>
<circle cx="267.8" cy="360.7" r="7.0"/>
<circle cx="350.0" cy="326.5" r="7.0"/>
<circle cx="261.8" cy="310.8" r="7.0"/>
<circle cx="441.8" cy="280.8" r="7.0"/>
<circle cx="240.8" cy="281.4" r="7.0"/>
<circle cx="517.0" cy="374.4" r="7.0"/>
<circle cx="297.6" cy="508.5" r="7.0"/>
<circle cx="328.6" cy="269.5" r="7.0"/>
<circle cx="335.6" cy="398.1" r="7.0"/>
<circle cx="439.7" cy="373.4" r="7.0"/>
<circle cx="381.9" cy="257.4" r="7.0"/>
<circle cx="454.2" cy="346.0" r="7.0"/>
<circle cx="428.5" cy="329.3" r="7.0"/>
<circle cx="276.5" cy="353.7" r="7.0"/>
<circle cx="332.3" cy="438.1" r="7.0"/>
<circle cx="263.2" cy="405.1" r="7.0"/>
<circle cx="315.0" cy="244.2" r="7.0"/>
<circle cx="373.5" cy="243.2" r="7.0"/>
<circle cx="447.6" cy="286.8" r="7.0"/>
<circle cx="325.0" cy="148.1" r="7.0"/>
<circle cx="287.5" cy="415.0" r="7.0"/>
<circle cx="414.3" cy="310.8" r="7.0"/>
<circle cx="325.4" cy="257.5" r="7.0"/>
<circle cx="391.4" cy="312.5" r="7.0"/>
<circle cx="371.0" cy="390.1" r="7.0"/>
<circle cx="323.6" cy="297.3" r="7.0"/>
<circle cx="192.6" cy="422.6" r="7.0"/>
<circle cx="292.1" cy="328.8" r="7.0"/>
<circle cx="383.2" cy="266.2" r="7.0"/>
<circle cx="312.4" cy="395.6" r="7.0"/>
<circle cx="342.3" cy="431.5" r="7.0"/>
<circle cx="305.7" cy="182.9" r="7.0"/>
<circle cx="334.8" cy="413.0" r="7.0"/>
<circle cx="322.7" cy="386.5" r="7.0"/>
<circle cx="442.6" cy="447.1" r="7.0"/>
<circle cx="301.1" cy="207.3" r="7.0"/>
<circle cx="294.2" cy="227.7" r="7.0"/>
<circle cx="260.5" cy="379.5" r="7.0"/>
<circle cx="368.7" cy="356.2" r="7.0"/>
<circle cx="399.9" cy="277.1" r="7.0"/>
<circle cx="392.4" cy="462.8" r="7.0"/>
<circle cx="510.5" cy="372.2" r="7.0"/>
<circle cx="375.5" cy="331.3" r="7.0"/>
<circle cx="402.1" cy="277.7" r="7.0"/>
<circle cx="363.6" cy="328.9" r="7.0"/>
<circle cx="483.6" cy="448.9" r="7.0"/>
<circle cx="332.6" cy="378.1" r="7.0"/>
<circle cx="422.1" cy="255.7" r="7.0"/>
<circle cx="298.5" cy="323.8" r="7.0"/>
<circle cx="476.0" cy="421.2" r="7.0"/>
<circle cx="415.0" cy="373.2" r="7.0"/>
<circle cx="351.4" cy="189.0" r="7.0"/>
<circle cx="537.5" cy="304.1" r="7.0"/>
<circle cx="286.8" cy="462.6" r="7.0"/>
<circle cx="380.8" cy="217.6" r="7.0"/>
<circle cx="233.9" cy="208.9" r="7.0"/>
<circle cx="452.8" cy="303.9" r="7.0"/>
<circle cx="322.6" cy="304.2" r="7.0"/>
<circle cx="388.5" cy="312.7" r="7.0"/>
<circle cx="356.3" cy="254.0" r="7.0"/>
<circle cx="270.4" cy="371.8" r="7.0"/>
<circle cx="472.7" cy="292.0" r="7.0"/>
<circle cx="357.1" cy="417.2" r="7.0"/>
<circle cx="381.1" cy="537.0" r="7.0"/>
<circle cx="409.7" cy="214.7" r="7.0"/>
<circle cx="287.0" cy="413.9" r="7.0"/>
<circle cx="409.1" cy="243.9" r="7.0"/>
<circle cx="317.8" cy="351.9" r="7.0"/>
<circle cx="283.2" cy="321.0" r="7.0"/>
<circle cx="339.3" cy="337.7" r="7.0"/>
<circle cx="420.4" cy="280.7" r="7.0"/>
<circle cx="320.0" cy="347.2" r="7.0"/>
<circle cx="243.6" cy="235.5" r="7.0"/>
<circle cx="340.4" cy="314.3" r="7.0"/>
<circle cx="398.7" cy="436.2" r="7.0"/>
<circle cx="303.4" cy="261.9" r="7.0"/>
<circle cx="430.7" cy="229.7" r="7.0"/>
<circle cx="342.9" cy="270.3" r="7.0"/>
<circle cx="334.8" cy="346.2" r="7.0"/>
<circle cx="379.0" cy="376.0" r="7.0"/>
<circle cx="349.4" cy="398.4" r="7.0"/>
<circle cx="329.0" cy="207.5" r="7.0"/>
<circle cx="424.9" cy="325.2" r="7.0"/>
<circle cx="368.2" cy="511.9" r="7.0"/>
<circle cx="502.1" cy="433.2" r="7.0"/>
<circle cx="355.0" cy="208.2" r="7.0"/>
<circle cx="415.7" cy="385.4" r="7.0"/>
<circle cx="312.1" cy="408.8" r="7.0"/>
<circle cx="371.8" cy="327.9" r="7.0"/>
<circle cx="295.5" cy="469.4" r="7.0"/>
<circle cx="440.6" cy="370.3" r="7.0"/>
<circle cx="473.9" cy="335.4" r="7.0"/>
<circle cx="371.4" cy="316.7" r="7.0"/>
<circle cx="315.3" cy="473.6" r="7.0"/>
<circle cx="245.1" cy="340.7" r="7.0"/>
<circle cx="184.1" cy="474.6" r="7.0"/>
<circle cx="307.3" cy="274.2" r="7.0"/>
<circle cx="359.5" cy="407.2" r="7.0"/>
<circle cx="403.7" cy="331.9" r="7.0"/>
<circle cx="339.8" cy="345.3" r="7.0"/>
<circle cx="307.8" cy="192.9" r="7.0"/>
<circle cx="196.0" cy="333.6" r="7.0"/>
<circle cx="246.2" cy="224.8" r="7.0"/>
<circle cx="381.2" cy="459.6" r="7.0"/>
<circle cx="497.7" cy="384.9" r="7.0"/>
<circle cx="374.4" cy="392.4" r="7.0"/>
<circle cx="341.9" cy="420.4" r="7.0"/>
<circle cx="354.5" cy="187.9" r="7.0"/>
<circle cx="337.0" cy="418.7" r="7.0"/>
<circle cx="236.6" cy="435.0" r="7.0"/>
<circle cx="496.9" cy="343.4" r="7.0"/>
<circle cx="240.6" cy="284.6" r="7.0"/>
<circle cx="213.9" cy="375.3" r="7.0"/>
<circle cx="367.8" cy="304.6" r="7.0"/>
<circle cx="328.8" cy="357.7" r="7.0"/>
<circle cx="408.8" cy="362.2" r="7.0"/>
<circle cx="282.6" cy="351.9" r="7.0"/>
<circle cx="344.5" cy="240.6" r="7.0"/>
<circle cx="321.2" cy="370.2" r="7.0"/>
<circle cx="296.9" cy="300.2" r="7.0"/>
<circle cx="488.3" cy="292.9" r="7.0"/>
<circle cx="264.9" cy="314.0" r="7.0"/>
<circle cx="316.4" cy="324.7" r="7.0"/>
<circle cx="358.8" cy="290.5" r="7.0"/>
<circle cx="494.8" cy="346.8" r="7.0"/>
<circle cx="468.5" cy="461.2" r="7.0"/>
<circle cx="436.5" cy="296.7" r="7.0"/>
<circle cx="375.6" cy="372.4" r="7.0"/>
<circle cx="384.8" cy="250.9" r="7.0"/>
<circle cx="292.5" cy="432.0" r="7.0"/>
<circle cx="243.1" cy="361.0" r="7.0"/>
<circle cx="395.8" cy="179.0" r="7.0"/>
<circle cx="387.3" cy="376.5" r="7.0"/>
<circle cx="384.1" cy="450.0" r="7.0"/>
<circle cx="298.1" cy="231.7" r="7.0"/>
<circle cx="339.7" cy="453.4" r="7.0"/>
<circle cx="327.5" cy="311.6" r="7.0"/>
<circle cx="207.7" cy="291.0" r="7.0"/>
<circle cx="398.8" cy="348.8" r="7.0"/>
<circle cx="333.9" cy="256.4" r="7.0"/>
<circle cx="337.3" cy="193.8" r="7.0"/>
<circle cx="426.5" cy="438.6" r="7.0"/>
<circle cx="383.9" cy="172.7" r="7.0"/>
<circle cx="498.4" cy="363.5" r="7.0"/>
<circle cx="371.3" cy="227.5" r="7.0"/>
<circle cx="372.4" cy="399.7" r="7.0"/>
<circle cx="463.9" cy="486.1" r="7.0"/>
<circle cx="245.1" cy="253.8" r="7.0"/>
<circle cx="418.2" cy="160.5" r="7.0"/>
<circle cx="373.2" cy="247.2" r="7.0"/>
<circle cx="374.0" cy="252.0" r="7.0"/>
<circle cx="481.5" cy="309.6" r="7.0"/>
<circle cx="457.1" cy="250.4" r="7.0"/>
<circle cx="295.1" cy="274.5" r="7.0"/>
<circle cx="387.8" cy="236.2" r="7.0"/>
<circle cx="317.8" cy="358.5" r="7.0"/>
<circle cx="413.7" cy="266.2" r="7.0"/>
<circle cx="431.1" cy="427.5" r="7.0"/>
<circle cx="361.8" cy="262.6" r="7.0"/>
<circle cx="420.8" cy="361.2" r="7.0"/>
<circle cx="279.1" cy="308.7" r="7.0"/>
<circle cx="533.5" cy="393.8" r="7.0"/>
<circle cx="265.2" cy="175.5" r="7.0"/>
<circle cx="261.3" cy="264.8" r="7.0"/>
<circle cx="332.5" cy="372.6" r="7.0"/>
<circle cx="251.0" cy="231.5" r="7.0"/>
<circle cx="305.1" cy="397.3" r="7.0"/>
<circle cx="252.6" cy="377.3" r="7.0"/>
<circle cx="550.8" cy="515.8" r="7.0"/>
<circle cx="497.4" cy="331.7" r="7.0"/>
<circle cx="235.7" cy="317.1" r="7.0"/>
<circle cx="356.7" cy="191.6" r="7.0"/>
<circle cx="464.9" cy="423.3" r="7.0"/>
<circle cx="354.8" cy="468.6" r="7.0"/>
<circle cx="428.6" cy="340.7" r="7.0"/>
<circle cx="370.7" cy="295.6" r="7.0"/>
<circle cx="360.0" cy="201.2" r="7.0"/>
<circle cx="354.3" cy="311.1" r="7.0"/>
<circle cx="291.6" cy="292.3" r="7.0"/>
<circle cx="463.6" cy="400.1" r="7.0"/>
<circle cx="286.3" cy="227.4" r="7.0"/>
<circle cx="419.8" cy="336.0" r="7.0"/>
<circle cx="405.0" cy="355.1" r="7.0"/>
<circle cx="435.3" cy="295.3" r="7.0"/>
<circle cx="380.6" cy="302.7" r="7.0"/>
<circle cx="254.5" cy="312.7" r="7.0"/>
<circle cx="304.8" cy="226.5" r="7.0"/>
<circle cx="438.4" cy="319.6" r="7.0"/>
<circle cx="329.5" cy="328.4" r="7.0"/>
<circle cx="466.2" cy="265.5" r="7.0"/>
<circle cx="422.6" cy="286.4" r="7.0"/>
<circle cx="311.0" cy="323.0" r="7.0"/>
<circle cx="139.4" cy="368.4" r="7.0"/>
<circle cx="484.9" cy="392.3" r="7.0"/>
<circle cx="231.9" cy="303.7" r="7.0"/>
<circle cx="406.4" cy="409.7" r="7.0"/>
<circle cx="284.9" cy="310.7" r="7.0"/>
<circle cx="242.5" cy="200.2" r="7.0"/>
<circle cx="245.8" cy="349.5" r="7.0"/>
<circle cx="262.6" cy="330.5" r="7.0"/>
<circle cx="441.3" cy="376.0" r="7.0"/>
<circle cx="297.1" cy="329.7" r="7.0"/>
<circle cx="404.1" cy="268.2" r="7.0"/>
<circle cx="238.4" cy="185.5" r="7.0"/>
<circle cx="395.0" cy="298.6" r="7.0"/>
<circle cx="369.9" cy="421.6" r="7.0"/>
<circle cx="299.3" cy="238.6" r="7.0"/>
<circle cx="328.4" cy="303.6" r="7.0"/>
<circle cx="450.5" cy="311.7" r="7.0"/>
<circle cx="376.2" cy="312.8" r="7.0"/>
<circle cx="396.9" cy="229.9" r="7.0"/>
<circle cx="394.7" cy="315.1" r="7.0"/>
<circle cx="416.4" cy="291.0" r="7.0"/>
<circle cx="378.1" cy="365.6" r="7.0"/>
<circle cx="353.1" cy="373.7" r="7.0"/>
<circle cx="343.5" cy="457.4" r="7.0"/>
<circle cx="289.5" cy="326.9" r="7.0"/>
<circle cx="261.7" cy="323.3" r="7.0"/>
<circle cx="363.5" cy="450.3" r="7.0"/>
<circle cx="498.9" cy="352.9" r="7.0"/>
<circle cx="237.6" cy="343.1" r="7.0"/>
<circle cx="382.0" cy="214.0" r="7.0"/>
<circle cx="353.7" cy="242.2" r="7.0"/>
<circle cx="405.8" cy="185.5" r="7.0"/>
<circle cx="237.0" cy="281.2" r="7.0"/>
<circle cx="517.2" cy="405.3" r="7.0"/>
<circle cx="428.8" cy="347.7" r="7.0"/>
<circle cx="427.8" cy="275.9" r="7.0"/>
<circle cx="403.9" cy="388.2" r="7.0"/>
<circle cx="360.4" cy="366.4" r="7.0"/>
<circle cx="213.7" cy="183.4" r="7.0"/>
<circle cx="475.0" cy="164.9" r="7.0"/>
<circle cx="417.0" cy="299.7" r="7.0"/>
<circle cx="434.1" cy="437.8" r="7.0"/>
<circle cx="471.3" cy="394.2" r="7.0"/>
<circle cx="276.9" cy="302.4" r="7.0"/>
<circle cx="276.3" cy="385.4" r="7.0"/>
<circle cx="245.1" cy="261.1" r="7.0"/>
<circle cx="369.2" cy="526.9" r="7.0"/>
<circle cx="219.6" cy="308.6" r="7.0"/>
<circle cx="519.0" cy="442.7" r="7.0"/>
<circle cx="287.3" cy="259.5" r="7.0"/>
<circle cx="356.9" cy="238.1" r="7.0"/>
<circle cx="434.4" cy="349.9" r="7.0"/>
<circle cx="411.3" cy="333.6" r="7.0"/>
<circle cx="314.0" cy="425.0" r="7.0"/>
<circle cx="225.9" cy="304.6" r="7.0"/>
<circle cx="272.6" cy="226.8" r="7.0"/>
<circle cx="352.6" cy="226.4" r="7.0"/>
<circle cx="416.2" cy="260.7" r="7.0"/>
<circle cx="415.4" cy="365.4" r="7.0"/>
<circle cx="353.7" cy="475.4" r="7.0"/>
<circle cx="295.2" cy="433.1" r="7.0"/>
<circle cx="273.0" cy="344.6" r="7.0"/>
<circle cx="279.0" cy="328.8" r="7.0"/>
<circle cx="479.1" cy="397.3" r="7.0"/>
<circle cx="499.8" cy="454.4" r="7.0"/>
<circle cx="471.2" cy="323.0" r="7.0"/>
<circle cx="286.4" cy="354.0" r="7.0"/>
<circle cx="342.5" cy="350.7" r="7.0"/>
<circle cx="428.4" cy="375.1" r="7.0"/>
<circle cx="304.1" cy="474.4" r="7.0"/>
<circle cx="468.5" cy="309.9" r="7.0"/>
<circle cx="391.9" cy="321.4" r="7.0"/>
<circle cx="372.8" cy="349.7" r="7.0"/>
<circle cx="273.9" cy="276.2" r="7.0"/>
<circle cx="561.2" cy="293.0" r="7.0"/>
<circle cx="489.8" cy="343.1" r="7.0"/>
<circle cx="485.2" cy="381.6" r="7.0"/>
<circle cx="410.4" cy="344.5" r="7.0"/>
<circle cx="471.7" cy="368.0" r="7.0"/>
<circle cx="297.5" cy="422.9" r="7.0"/>
<circle cx="448.7" cy="376.4" r="7.0"/>
<circle cx="277.6" cy="335.7" r="7.0"/>
<circle cx="445.1" cy="362.9" r="7.0"/>
<circle cx="379.5" cy="303.4" r="7.0"/>
<circle cx="228.0" cy="217.0" r="7.0"/>
<circle cx="326.6" cy="481.7" r="7.0"/>
<circle cx="318.3" cy="212.0" r="7.0"/>
<circle cx="329.4" cy="147.0" r="7.0"/>
<circle cx="465.5" cy="389.5" r="7.0"/>
<circle cx="386.4" cy="409.3" r="7.0"/>
<circle cx="301.7" cy="221.4" r="7.0"/>
<circle cx="425.2" cy="294.5" r="7.0"/>
<circle cx="420.2" cy="271.9" r="7.0"/>
<circle cx="401.1" cy="423.7" r="7.0"/>
<circle cx="302.1" cy="266.5" r="7.0"/>
<circle cx="429.7" cy="243.1" r="7.0"/>
<circle cx="342.1" cy="220.7" r="7.0"/>
<circle cx="273.4" cy="297.7" r="7.0"/>
<circle cx="242.8" cy="378.9" r="7.0"/>
<circle cx="308.1" cy="287.7" r="7.0"/>
<circle cx="264.2" cy="303.3" r="7.0"/>
<circle cx="308.5" cy="183.5" r="7.0"/>
<circle cx="455.9" cy="394.0" r="7.0"/>
<circle cx="491.9" cy="350.4" r="7.0"/>
<circle cx="294.9" cy="321.6" r="7.0"/>
<circle cx="367.1" cy="415.7" r="7.0"/>
<circle cx="450.1" cy="400.2" r="7.0"/>
<circle cx="543.5" cy="290.5" r="7.0"/>
<circle cx="314.7" cy="302.6" r="7.0"/>
<circle cx="419.5" cy="417.7" r="7.0"/>
<circle cx="332.6" cy="353.4" r="7.0"/>
<circle cx="136.3" cy="216.0" r="7.0"/>
<circle cx="388.4" cy="291.1" r="7.0"/>
<circle cx="390.7" cy="446.0" r="7.0"/>
<circle cx="291.4" cy="249.0" r="7.0"/>
<circle cx="351.0" cy="177.0" r="7.0"/>
<circle cx="463.8" cy="360.5" r="7.0"/>
<circle cx="325.1" cy="403.2" r="7.0"/>
<circle cx="341.6" cy="161.5" r="7.0"/>
<circle cx="402.6" cy="217.9" r="7.0"/>
<circle cx="321.7" cy="308.6" r="7.0"/>
<circle cx="225.9" cy="318.9" r="7.0"/>
<circle cx="185.2" cy="161.9" r="7.0"/>
<circle cx="250.6" cy="354.7" r="7.0"/>
<circle cx="447.9" cy="382.5" r="7.0"/>
<circle cx="336.5" cy="216.8" r="7.0"/>
<circle cx="522.8" cy="417.9" r="7.0"/>
<circle cx="375.3" cy="485.1" r="7.0"/>
<circle cx="413.3" cy="237.1" r="7.0"/>
<circle cx="327.8" cy="249.1" r="7.0"/>
<circle cx="447.5" cy="338.0" r="7.0"/>
<circle cx="311.1" cy="351.4" r="7.0"/>
<circle cx="311.2" cy="306.1" r="7.0"/>
<circle cx="433.8" cy="420.2" r="7.0"/>
<circle cx="420.5" cy="413.1" r="7.0"/>
<circle cx="357.3" cy="256.2" r="7.0"/>
<circle cx="387.8" cy="347.1" r="7.0"/>
<circle cx="357.7" cy="528.3" r="7.0"/>
<circle cx="285.0" cy="418.1" r="7.0"/>
<circle cx="355.1" cy="323.6" r="7.0"/>
<circle cx="269.7" cy="281.3" r="7.0"/>
<circle cx="342.9" cy="116.6" r="7.0"/>
<circle cx="358.8" cy="442.9" r="7.0"/>
<circle cx="426.2" cy="286.3" r="7.0"/>
<circle cx="462.4" cy="387.2" r="7.0"/>
<circle cx="296.7" cy="283.2" r="7.0"/>
<circle cx="300.4" cy="423.9" r="7.0"/>
<circle cx="328.6" cy="146.1" r="7.0"/>
<circle cx="419.6" cy="264.6" r="7.0"/>
<circle cx="300.4" cy="397.5" r="7.0"/>
<circle cx="224.9" cy="201.4" r="7.0"/>
<circle cx="413.0" cy="394.7" r="7.0"/>
<circle cx="343.2" cy="352.3" r="7.0"/>
<circle cx="401.6" cy="340.9" r="7.0"/>
<circle cx="228.8" cy="295.4" r="7.0"/>
<circle cx="364.8" cy="373.9" r="7.0"/>
<circle cx="259.0" cy="343.3" r="7.0"/>
<circle cx="287.8" cy="220.3" r="7.0"/>
<circle cx="235.7" cy="254.6" r="7.0"/>
<circle cx="427.8" cy="258.7" r="7.0"/>
<circle cx="237.0" cy="252.2" r="7.0"/>
<circle cx="606.0" cy="349.0" r="7.0"/>
<circle cx="380.1" cy="385.1" r="7.0"/>
<circle cx="244.7" cy="315.2" r="7.0"/>
<circle cx="350.1" cy="315.5" r="7.0"/>
<circle cx="297.0" cy="200.2" r="7.0"/>
<circle cx="337.0" cy="317.7" r="7.0"/>
<circle cx="259.2" cy="335.1" r="7.0"/>
<circle cx="276.5" cy="355.4" r="7.0"/>
<circle cx="335.8" cy="209.7" r="7.0"/>
<circle cx="278.4" cy="230.6" r="7.0"/>
<circle cx="337.0" cy="380.6" r="7.0"/>
<circle cx="324.7" cy="447.2" r="7.0"/>
<circle cx="264.9" cy="288.4" r="7.0"/>
<circle cx="518.6" cy="362.8" r="7.0"/>
<circle cx="293.9" cy="376.5" r="7.0"/>
<circle cx="428.8" cy="340.0" r="7.0"/>
<circle cx="429.4" cy="252.4" r="7.0"/>
<circle cx="496.4" cy="307.4" r="7.0"/>
<circle cx="332.3" cy="398.9" r="7.0"/>
<circle cx="457.3" cy="462.0" r="7.0"/>
<circle cx="283.2" cy="398.3" r="7.0"/>
<circle cx="391.5" cy="331.6" r="7.0"/>
<circle cx="447.5" cy="283.3" r="7.0"/>
<circle cx="372.1" cy="425.5" r="7.0"/>
<circle cx="485.6" cy="318.1" r="7.0"/>
<circle cx="324.0" cy="226.1" r="7.0"/>
<circle cx="473.6" cy="321.4" r="7.0"/>
<circle cx="353.9" cy="449.1" r="7.0"/>
<circle cx="317.9" cy="346.8" r="7.0"/>
<circle cx="477.9" cy="369.6" r="7.0"/>
<circle cx="348.9" cy="408.1" r="7.0"/>
<circle cx="283.2" cy="228.9" r="7.0"/>
<circle cx="584.9" cy="410.5" r="7.0"/>
<circle cx="304.7" cy="295.1" r="7.0"/>
<circle cx="439.0" cy="310.4" r="7.0"/>
<circle cx="285.3" cy="201.3" r="7.0"/>
<circle cx="321.3" cy="393.4" r="7.0"/>
<circle cx="514.2" cy="255.6" r="7.0"/>
<circle cx="324.2" cy="299.6" r="7.0"/>
<circle cx="416.3" cy="242.9" r="7.0"/>
<circle cx="283.9" cy="353.1" r="7.0"/>
<circle cx="430.4" cy="422.7" r="7.0"/>
<circle cx="314.4" cy="323.7" r="7.0"/>
<circle cx="306.7" cy="347.8" r="7.0"/>
<circle cx="371.1" cy="367.3" r="7.0"/>
<circle cx="234.3" cy="350.1" r="7.0"/>
<circle cx="158.5" cy="192.4" r="7.0"/>
<circle cx="332.9" cy="411.2" r="7.0"/>
<circle cx="280.0" cy="285.9" r="7.0"/>
<circle cx="377.3" cy="376.6" r="7.0"/>
<circle cx="415.7" cy="232.2" r="7.0"/>
<circle cx="419.6" cy="284.8" r="7.0"/>
<circle cx="450.8" cy="284.0" r="7.0"/>
<circle cx="361.5" cy="316.4" r="7.0"/>
<circle cx="301.5" cy="434.6" r="7.0"/>
<circle cx="297.1" cy="307.6" r="7.0"/>
<circle cx="385.3" cy="416.4" r="7.0"/>
<circle cx="411.2" cy="439.5" r="7.0"/>
<circle cx="374.6" cy="362.6" r="7.0"/>
<circle cx="350.4" cy="332.0" r="7.0"/>
<circle cx="299.1" cy="389.7" r="7.0"/>
<circle cx="310.1" cy="360.9" r="7.0"/>
<circle cx="413.3" cy="404.9" r="7.0"/>
<circle cx="253.7" cy="330.5" r="7.0"/>
<circle cx="409.5" cy="435.3" r="7.0"/>
<circle cx="417.0" cy="246.4" r="7.0"/>
<circle cx="563.1" cy="303.1" r="7.0"/>
<circle cx="290.4" cy="315.5" r="7.0"/>
<circle cx="426.6" cy="415.4" r="7.0"/>
<circle cx="237.1" cy="349.1" r="7.0"/>
<circle cx="295.5" cy="452.4" r="7.0"/>
<circle cx="523.3" cy="380.8" r="7.0"/>
<circle cx="353.0" cy="198.6" r="7.0"/>
<circle cx="472.4" cy="460.0" r="7.0"/>
<circle cx="274.7" cy="301.8" r="7.0"/>
<circle cx="289.7" cy="335.0" r="7.0"/>
<circle cx="343.2" cy="343.3" r="7.0"/>
<circle cx="386.7" cy="452.3" r="7.0"/>
<circle cx="467.9" cy="439.7" r="7.0"/>
<circle cx="298.5" cy="184.1" r="7.0"/>
<circle cx="373.4" cy="395.8" r="7.0"/>
<circle cx="237.0" cy="398.5" r="7.0"/>
<circle cx="317.7" cy="406.2" r="7.0"/>
<circle cx="509.5" cy="345.1" r="7.0"/>
<circle cx="373.1" cy="225.4" r="7.0"/>
<circle cx="374.2" cy="312.7" r="7.0"/>
<circle cx="527.0" cy="348.5" r="7.0"/>
<circle cx="425.7" cy="320.9" r="7.0"/>
<circle cx="366.8" cy="405.4" r="7.0"/>
<circle cx="200.1" cy="288.3" r="7.0"/>
<circle cx="240.8" cy="299.0" r="7.0"/>
<circle cx="286.2" cy="353.1" r="7.0"/>
<circle cx="450.3" cy="256.6" r="7.0"/>
<circle cx="300.4" cy="351.1" r="7.0"/>
<circle cx="411.6" cy="495.5" r="7.0"/>
<circle cx="512.8" cy="435.0" r="7.0"/>
<circle cx="387.0" cy="346.1" r="7.0"/>
<circle cx="282.9" cy="430.2" r="7.0"/>
<circle cx="338.1" cy="434.7" r="7.0"/>
<circle cx="360.8" cy="306.4" r="7.0"/>
<circle cx="316.4" cy="452.5" r="7.0"/>
<circle cx="286.7" cy="424.2" r="7.0"/>
<circle cx="240.8" cy="352.9" r="7.0"/>
<circle cx="492.3" cy="378.9" r="7.0"/>
<circle cx="421.1" cy="279.1" r="7.0"/>
<circle cx="291.6" cy="366.4" r="7.0"/>
<circle cx="414.2" cy="351.1" r="7.0"/>
<circle cx="405.8" cy="329.0" r="7.0"/>
<circle cx="457.7" cy="331.9" r="7.0"/>
<circle cx="481.6" cy="332.7" r="7.0"/>
<circle cx="345.5" cy="309.9" r="7.0"/>
<circle cx="303.9" cy="225.5" r="7.0"/>
<circle cx="407.4" cy="358.2" r="7.0"/>
<circle cx="279.1" cy="390.7" r="7.0"/>
<circle cx="313.4" cy="248.1" r="7.0"/>
<circle cx="304.3" cy="274.1" r="7.0"/>
<circle cx="425.0" cy="258.5" r="7.0"/>
<circle cx="394.3" cy="446.1" r="7.0"/>
<circle cx="509.0" cy="399.0" r="7.0"/>
<circle cx="355.3" cy="450.0" r="7.0"/>
<circle cx="461.7" cy="369.9" r="7.0"/>
<circle cx="488.1" cy="283.8" r="7.0"/>
<circle cx="301.8" cy="178.9" r="7.0"/>
<circle cx="347.8" cy="239.6" r="7.0"/>
<circle cx="176.0" cy="330.7" r="7.0"/>
<circle cx="483.3" cy="312.6" r="7.0"/>
<circle cx="297.2" cy="332.1" r="7.0"/>
<circle cx="343.9" cy="379.8" r="7.0"/>
<circle cx="402.1" cy="301.7" r="7.0"/>
<circle cx="398.3" cy="406.7" r="7.0"/>
<circle cx="448.9" cy="259.5" r="7.0"/>
<circle cx="364.5" cy="196.2" r="7.0"/>
<circle cx="362.3" cy="237.1" r="7.0"/>
<circle cx="354.8" cy="237.7" r="7.0"/>
<circle cx="367.3" cy="205.5" r="7.0"/>
<circle cx="289.7" cy="274.9" r="7.0"/>
<circle cx="346.0" cy="317.9" r="7.0"/>
<circle cx="263.5" cy="501.7" r="7.0"/>
<circle cx="380.0" cy="276.8" r="7.0"/>
<circle cx="294.7" cy="243.2" r="7.0"/>
<circle cx="382.8" cy="387.9" r="7.0"/>
<circle cx="248.4" cy="368.0" r="7.0"/>
<circle cx="244.5" cy="361.2" r="7.0"/>
<circle cx="249.7" cy="259.9" r="7.0"/>
<circle cx="371.6" cy="297.1" r="7.0"/>
<circle cx="515.8" cy="381.1" r="7.0"/>
<circle cx="368.7" cy="346.2" r="7.0"/>
<circle cx="373.3" cy="420.2" r="7.0"/>
<circle cx="327.3" cy="184.5" r="7.0"/>
<circle cx="461.9" cy="348.2" r="7.0"/>
<circle cx="391.1" cy="415.5" r="7.0"/>
<circle cx="392.9" cy="306.5" r="7.0"/>
<circle cx="335.9" cy="423.1" r="7.0"/>
<circle cx="425.7" cy="203.6" r="7.0"/>
<circle cx="293.9" cy="167.6" r="7.0"/>
<circle cx="445.2" cy="418.0" r="7.0"/>
<circle cx="379.5" cy="403.3" r="7.0"/>
<circle cx="448.3" cy="454.1" r="7.0"/>
<circle cx="394.8" cy="269.6" r="7.0"/>
<circle cx="382.2" cy="467.5" r="7.0"/>
<circle cx="391.0" cy="495.8" r="7.0"/>
<circle cx="400.0" cy="465.6" r="7.0"/>
<circle cx="289.0" cy="251.2" r="7.0"/>
<circle cx="448.7" cy="385.8" r="7.0"/>
<circle cx="277.6" cy="396.0" r="7.0"/>
<circle cx="536.8" cy="333.6" r="7.0"/>
<circle cx="504.3" cy="426.6" r="7.0"/>
<circle cx="473.3" cy="298.8" r="7.0"/>
<circle cx="363.1" cy="310.0" r="7.0"/>
<circle cx="229.7" cy="252.5" r="7.0"/>
<circle cx="251.3" cy="341.3" r="7.0"/>
<circle cx="482.4" cy="423.5" r="7.0"/>
<circle cx="371.3" cy="256.7" r="7.0"/>
<circle cx="376.1" cy="478.9" r="7.0"/>
<circle cx="345.2" cy="287.6" r="7.0"/>
<circle cx="160.8" cy="230.6" r="7.0"/>
<circle cx="369.8" cy="261.7" r="7.0"/>
<circle cx="242.9" cy="238.9" r="7.0"/>
<circle cx="274.6" cy="190.8" r="7.0"/>
<circle cx="369.3" cy="434.9" r="7.0"/>
<circle cx="257.8" cy="207.4" r="7.0"/>
<circle cx="189.9" cy="177.6" r="7.0"/>
<circle cx="203.9" cy="180.3" r="7.0"/>
<circle cx="376.1" cy="242.4" r="7.0"/>
<circle cx="401.2" cy="312.6" r="7.0"/>
<circle cx="269.6" cy="345.8" r="7.0"/>
<circle cx="350.5" cy="251.8" r="7.0"/>
<circle cx="493.6" cy="406.9" r="7.0"/>
<circle cx="364.9" cy="295.9" r="7.0"/>
<circle cx="304.2" cy="220.8" r="7.0"/>
<circle cx="363.9" cy="481.0" r="7.0"/>
<circle cx="291.4" cy="223.2" r="7.0"/>
<circle cx="371.4" cy="279.7" r="7.0"/>
<circle cx="335.3" cy="450.4" r="7.0"/>
<circle cx="441.2" cy="191.6" r="7.0"/>
<circle cx="416.0" cy="511.0" r="7.0"/>
<circle cx="296.1" cy="256.8" r="7.0"/>
<circle cx="332.0" cy="237.1" r="7.0"/>
<circle cx="434.1" cy="354.5" r="7.0"/>
<circle cx="475.2" cy="352.0" r="7.0"/>
<circle cx="236.0" cy="283.0" r="7.0"/>
<circle cx="366.2" cy="451.9" r="7.0"/>
<circle cx="260.6" cy="322.1" r="7.0"/>
<circle cx="486.9" cy="489.3" r="7.0"/>
<circle cx="280.4" cy="399.0" r="7.0"/>
<circle cx="520.3" cy="435.8" r="7.0"/>
<circle cx="585.5" cy="354.6" r="7.0"/>
<circle cx="296.9" cy="253.8" r="7.0"/>
<circle cx="450.0" cy="227.6" r="7.0"/>
<circle cx="351.8" cy="372.6" r="7.0"/>
<circle cx="249.1" cy="371.6" r="7.0"/>
<circle cx="360.7" cy="361.1" r="7.0"/>
<circle cx="405.0" cy="311.0" r="7.0"/>
<circle cx="321.4" cy="221.7" r="7.0"/>
<circle cx="419.3" cy="249.1" r="7.0"/>
<circle cx="476.0" cy="364.6" r="7.0"/>
<circle cx="235.4" cy="320.6" r="7.0"/>
<circle cx="362.6" cy="455.4" r="7.0"/>
<circle cx="336.8" cy="237.9" r="7.0"/>
<circle cx="381.7" cy="424.4" r="7.0"/>
<circle cx="287.8" cy="323.7" r="7.0"/>
<circle cx="354.6" cy="227.4" r="7.0"/>
<circle cx="459.7" cy="323.5" r="7.0"/>
<circle cx="342.7" cy="504.1" r="7.0"/>
<circle cx="451.4" cy="277.3" r="7.0"/>
<circle cx="221.3" cy="269.5" r="7.0"/>
<circle cx="333.5" cy="362.4" r="7.0"/>
<circle cx="273.7" cy="225.3" r="7.0"/>
<circle cx="288.8" cy="396.2" r="7.0"/>
<circle cx="262.6" cy="390.5" r="7.0"/>
<circle cx="364.3" cy="502.1" r="7.0"/>
<circle cx="370.1" cy="310.6" r="7.0"/>
<circle cx="388.5" cy="359.8" r="7.0"/>
<circle cx="223.8" cy="158.2" r="7.0"/>
<circle cx="464.3" cy="375.3" r="7.0"/>
<circle cx="180.5" cy="499.0" r="7.0"/>
<circle cx="415.0" cy="402.5" r="7.0"/>
<circle cx="505.8" cy="385.3" r="7.0"/>
<circle cx="419.1" cy="265.3" r="7.0"/>
<circle cx="268.7" cy="449.2" r="7.0"/>
<circle cx="370.4" cy="487.0" r="7.0"/>
<circle cx="487.7" cy="376.9" r="7.0"/>
<circle cx="415.4" cy="281.7" r="7.0"/>
<circle cx="313.7" cy="287.9" r="7.0"/>
<circle cx="431.8" cy="327.2" r="7.0"/>
<circle cx="282.2" cy="258.8" r="7.0"/>
<circle cx="377.4" cy="413.4" r="7.0"/>
<circle cx="439.5" cy="407.6" r="7.0"/>
<circle cx="280.6" cy="184.7" r="7.0"/>
<circle cx="250.1" cy="178.0" r="7.0"/>
<circle cx="150.2" cy="262.2" r="7.0"/>
<circle cx="430.0" cy="347.9" r="7.0"/>
<circle cx="443.3" cy="305.6" r="7.0"/>
<circle cx="288.7" cy="364.2" r="7.0"/>
<circle cx="467.7" cy="429.1" r="7.0"/>
<circle cx="283.1" cy="199.9" r="7.0"/>
<circle cx="486.7" cy="387.3" r="7.0"/>
<circle cx="293.7" cy="304.1" r="7.0"/>
<circle cx="387.3" cy="421.9" r="7.0"/>
<circle cx="472.1" cy="301.8" r="7.0"/>
<circle cx="339.3" cy="216.1" r="7.0"/>
<circle cx="308.9" cy="280.6" r="7.0"/>
<circle cx="324.9" cy="288.6" r="7.0"/>
<circle cx="373.4" cy="156.1" r="7.0"/>
<circle cx="338.3" cy="359.6" r="7.0"/>
<circle cx="438.9" cy="406.2" r="7.0"/>
<circle cx="488.5" cy="306.7" r="7.0"/>
<circle cx="370.1" cy="166.8" r="7.0"/>
<circle cx="389.8" cy="347.1" r="7.0"/>
<circle cx="402.4" cy="425.3" r="7.0"/>
<circle cx="159.0" cy="319.3" r="7.0"/>
<circle cx="373.9" cy="299.9" r="7.0"/>
<circle cx="290.5" cy="350.7" r="7.0"/>
<circle cx="479.0" cy="374.9" r="7.0"/>
<circle cx="455.5" cy="301.5" r="7.0"/>
<circle cx="502.9" cy="455.1" r="7.0"/>
<circle cx="519.3" cy="444.7" r="7.0"/>
<circle cx="387.2" cy="340.9" r="7.0"/>
<circle cx="244.5" cy="346.4" r="7.0"/>
<circle cx="372.8" cy="369.9" r="7.0"/>
<circle cx="337.4" cy="226.1" r="7.0"/>
<circle cx="253.2" cy="291.4" r="7.0"/>
<circle cx="339.3" cy="303.8" r="7.0"/>
<circle cx="355.7" cy="463.0" r="7.0"/>
<circle cx="429.0" cy="264.1" r="7.0"/>
<circle cx="259.1" cy="307.2" r="7.0"/>
<circle cx="517.4" cy="327.8" r="7.0"/>
<circle cx="352.8" cy="469.1" r="7.0"/>
<circle cx="305.3" cy="433.7" r="7.0"/>
<circle cx="449.5" cy="209.8" r="7.0"/>
<circle cx="361.7" cy="321.1" r="7.0"/>
<circle cx="420.5" cy="250.5" r="7.0"/>
<circle cx="365.9" cy="329.7" r="7.0"/>
<circle cx="470.7" cy="260.7" r="7.0"/>
<circle cx="400.0" cy="392.9" r="7.0"/>
<circle cx="325.3" cy="359.7" r="7.0"/>
<circle cx="340.3" cy="383.6" r="7.0"/>
<circle cx="323.7" cy="360.8" r="7.0"/>
<circle cx="505.4" cy="489.0" r="7.0"/>
<circle cx="338.7" cy="404.4" r="7.0"/>
<circle cx="484.0" cy="316.4" r="7.0"/>
<circle cx="432.4" cy="451.3" r="7.0"/>
<circle cx="410.6" cy="249.6" r="7.0"/>
<circle cx="459.4" cy="335.3" r="7.0"/>
<circle cx="395.5" cy="220.3" r="7.0"/>
<circle cx="445.8" cy="216.8" r="7.0"/>
<circle cx="277.1" cy="266.9" r="7.0"/>
<circle cx="356.7" cy="287.8" r="7.0"/>
<circle cx="357.9" cy="444.2" r="7.0"/>
<circle cx="356.6" cy="365.4" r="7.0"/>
<circle cx="336.2" cy="256.5" r="7.0"/>
<circle cx="320.4" cy="310.5" r="7.0"/>
<circle cx="322.0" cy="219.1" r="7.0"/>
<circle cx="313.5" cy="347.6" r="7.0"/>
<circle cx="458.7" cy="428.3" r="7.0"/>
<circle cx="348.9" cy="341.9" r="7.0"/>
<circle cx="304.1" cy="352.4" r="7.0"/>
<circle cx="411.4" cy="370.3" r="7.0"/>
<circle cx="419.6" cy="390.9" r="7.0"/>
<circle cx="314.2" cy="369.0" r="7.0"/>
<circle cx="290.0" cy="399.8" r="7.0"/>
<circle cx="256.7" cy="428.2" r="7.0"/>
<circle cx="477.1" cy="428.3" r="7.0"/>
<circle cx="377.1" cy="412.9" r="7.0"/>
<circle cx="310.0" cy="407.9" r="7.0"/>
<circle cx="426.3" cy="229.4" r="7.0"/>
<circle cx="320.7" cy="312.0" r="7.0"/>
<circle cx="381.0" cy="348.5" r="7.0"/>
<circle cx="314.4" cy="352.4" r="7.0"/>
<circle cx="309.2" cy="405.3" r="7.0"/>
<circle cx="437.6" cy="291.8" r="7.0"/>
<circle cx="351.4" cy="463.7" r="7.0"/>
<circle cx="252.3" cy="188.4" r="7.0"/>
<circle cx="211.0" cy="390.8" r="7.0"/>
<circle cx="489.2" cy="401.9" r="7.0"/>
<circle cx="454.7" cy="301.3" r="7.0"/>
<circle cx="234.0" cy="244.2" r="7.0"/>
<circle cx="496.8" cy="311.0" r="7.0"/>
<circle cx="255.4" cy="396.5" r="7.0"/>
<circle cx="264.6" cy="273.3" r="7.0"/>
<circle cx="290.9" cy="362.7" r="7.0"/>
<circle cx="151.5" cy="274.7" r="7.0"/>
<circle cx="341.6" cy="337.0" r="7.0"/>
<circle cx="302.7" cy="483.6" r="7.0"/>
<circle cx="403.9" cy="246.1" r="7.0"/>
<circle cx="456.8" cy="324.8" r="7.0"/>
<circle cx="421.5" cy="259.4" r="7.0"/>
<circle cx="401.1" cy="359.3" r="7.0"/>
<circle cx="529.0" cy="359.3" r="7.0"/>
<circle cx="509.3" cy="332.0" r="7.0"/>
<circle cx="526.6" cy="379.4" r="7.0"/>
<circle cx="381.6" cy="444.7" r="7.0"/>
<circle cx="287.7" cy="375.4" r="7.0"/>
<circle cx="452.8" cy="284.2" r="7.0"/>
<circle cx="257.1" cy="289.2" r="7.0"/>
<circle cx="248.4" cy="265.6" r="7.0"/>
<circle cx="241.3" cy="425.7" r="7.0"/>
<circle cx="174.6" cy="275.9" r="7.0"/>
<circle cx="262.7" cy="248.7" r="7.0"/>
<circle cx="333.3" cy="405.9" r="7.0"/>
<circle cx="400.2" cy="347.5" r="7.0"/>
<circle cx="233.5" cy="289.7" r="7.0"/>
<circle cx="382.7" cy="428.9" r="7.0"/>
<circle cx="388.9" cy="308.6" r="7.0"/>
<circle cx="407.1" cy="339.9" r="7.0"/>
<circle cx="230.0" cy="187.3" r="7.0"/>
<circle cx="347.5" cy="202.3" r="7.0"/>
<circle cx="354.4" cy="531.1" r="7.0"/>
<circle cx="410.7" cy="199.4" r="7.0"/>
<circle cx="335.2" cy="402.2" r="7.0"/>
<circle cx="357.7" cy="395.3" r="7.0"/>
<circle cx="306.7" cy="355.0" r="7.0"/>
<circle cx="374.5" cy="514.3" r="7.0"/>
<circle cx="375.3" cy="368.6" r="7.0"/>
<circle cx="219.9" cy="431.8" r="7.0"/>
<circle cx="370.8" cy="229.0" r="7.0"/>
<circle cx="252.3" cy="259.3" r="7.0"/>
<circle cx="455.8" cy="415.6" r="7.0"/>
<circle cx="455.4" cy="344.9" r="7.0"/>
<circle cx="317.5" cy="337.0" r="7.0"/>
<circle cx="331.1" cy="404.8" r="7.0"/>
<circle cx="308.5" cy="236.4" r="7.0"/>
<circle cx="193.6" cy="161.7" r="7.0"/>
<circle cx="430.4" cy="397.6" r="7.0"/>
<circle cx="344.1" cy="178.1" r="7.0"/>
<circle cx="376.8" cy="337.8" r="7.0"/>
<circle cx="435.2" cy="272.3" r="7.0"/>
<circle cx="302.5" cy="188.3" r="7.0"/>
<circle cx="256.5" cy="364.8" r="7.0"/>
<circle cx="429.7" cy="352.5" r="7.0"/>
<circle cx="443.9" cy="432.4" r="7.0"/>
<circle cx="465.0" cy="283.6" r="7.0"/>
<circle cx="182.1" cy="251.9" r="7.0"/>
<circle cx="337.4" cy="260.9" r="7.0"/>
<circle cx="330.9" cy="146.2" r="7.0"/>
<circle cx="419.4" cy="201.1" r="7.0"/>
<circle cx="328.5" cy="168.2" r="7.0"/>
<circle cx="349.5" cy="285.2" r="7.0"/>
<circle cx="384.7" cy="392.3" r="7.0"/>
<circle cx="439.1" cy="275.2" r="7.0"/>
<circle cx="470.3" cy="420.2" r="7.0"/>
<circle cx="358.7" cy="349.8" r="7.0"/>
<circle cx="227.9" cy="289.5" r="7.0"/>
<circle cx="330.4" cy="349.7" r="7.0"/>
<circle cx="312.0" cy="209.5" r="7.0"/>
<circle cx="367.9" cy="452.7" r="7.0"/>
<circle cx="395.1" cy="342.3" r="7.0"/>
<circle cx="361.3" cy="439.5" r="7.0"/>
<circle cx="249.1" cy="329.5" r="7.0"/>
<circle cx="467.2" cy="468.6" r="7.0"/>
<circle cx="409.6" cy="418.4" r="7.0"/>
<circle cx="351.1" cy="337.0" r="7.0"/>
<circle cx="291.8" cy="337.3" r="7.0"/>
<circle cx="258.1" cy="259.0" r="7.0"/>
<circle cx="400.4" cy="220.3" r="7.0"/>
<circle cx="386.3" cy="242.3" r="7.0"/>
<circle cx="275.3" cy="446.4" r="7.0"/>
<circle cx="401.9" cy="182.1" r="7.0"/>
<circle cx="327.4" cy="351.5" r="7.0"/>
<circle cx="403.4" cy="254.0" r="7.0"/>
<circle cx="520.6" cy="376.9" r="7.0"/>
<circle cx="350.3" cy="431.1" r="7.0"/>
<circle cx="361.0" cy="489.2" r="7.0"/>
<circle cx="386.4" cy="345.5" r="7.0"/>
<circle cx="336.6" cy="358.1" r="7.0"/>
<circle cx="350.1" cy="237.6" r="7.0"/>
<circle cx="313.5" cy="305.9" r="7.0"/>
<circle cx="472.5" cy="272.3" r="7.0"/>
<circle cx="366.6" cy="318.0" r="7.0"/>
<circle cx="328.1" cy="227.5" r="7.0"/>
<circle cx="474.5" cy="361.9" r="7.0"/>
<circle cx="329.7" cy="351.3" r="7.0"/>
<circle cx="550.4" cy="433.9" r="7.0"/>
<circle cx="445.3" cy="323.9" r="7.0"/>
<circle cx="253.2" cy="283.0" r="7.0"/>
<circle cx="366.9" cy="295.7" r="7.0"/>
<circle cx="378.0" cy="355.4" r="7.0"/>
<circle cx="460.5" cy="451.7" r="7.0"/>
<circle cx="250.9" cy="328.3" r="7.0"/>
<circle cx="417.9" cy="318.5" r="7.0"/>
<circle cx="494.5" cy="364.0" r="7.0"/>
<circle cx="378.8" cy="192.1" r="7.0"/>
<circle cx="391.0" cy="338.5" r="7.0"/>
<circle cx="321.0" cy="527.4" r="7.0"/>
<circle cx="353.4" cy="308.2" r="7.0"/>
<circle cx="254.4" cy="242.6" r="7.0"/>
<circle cx="462.7" cy="370.7" r="7.0"/>
<circle cx="193.9" cy="335.8" r="7.0"/>
<circle cx="287.7" cy="370.3" r="7.0"/>
<circle cx="268.6" cy="284.5" r="7.0"/>
<circle cx="181.0" cy="432.7" r="7.0"/>
<circle cx="321.5" cy="311.1" r="7.0"/>
<circle cx="390.5" cy="303.6" r="7.0"/>
<circle cx="260.0" cy="265.7" r="7.0"/>
<circle cx="320.0" cy="321.9" r="7.0"/>
<circle cx="280.2" cy="410.8" r="7.0"/>
<circle cx="246.7" cy="344.3" r="7.0"/>
<circle cx="292.6" cy="258.5" r="7.0"/>
<circle cx="285.1" cy="359.0" r="7.0"/>
<circle cx="530.6" cy="331.7" r="7.0"/>
<circle cx="441.2" cy="372.3" r="7.0"/>
<circle cx="506.3" cy="346.6" r="7.0"/>
<circle cx="343.3" cy="422.6" r="7.0"/>
<circle cx="347.8" cy="423.1" r="7.0"/>
<circle cx="212.6" cy="214.7" r="7.0"/>
<circle cx="341.1" cy="447.0" r="7.0"/>
<circle cx="370.0" cy="383.2" r="7.0"/>
<circle cx="474.0" cy="487.1" r="7.0"/>
<circle cx="415.8" cy="473.8" r="7.0"/>
<circle cx="469.1" cy="284.3" r="7.0"/>
<circle cx="439.0" cy="361.9" r="7.0"/>
<circle cx="369.1" cy="296.6" r="7.0"/>
<circle cx="350.7" cy="351.9" r="7.0"/>
<circle cx="429.7" cy="388.9" r="7.0"/>
<circle cx="439.1" cy="359.8" r="7.0"/>
<circle cx="530.7" cy="472.0" r="7.0"/>
<circle cx="501.4" cy="349.9" r="7.0"/>
<circle cx="372.7" cy="298.2" r="7.0"/>
<circle cx="380.5" cy="321.2" r="7.0"/>
<circle cx="266.0" cy="254.3" r="7.0"/>
<circle cx="356.4" cy="480.4" r="7.0"/>
<circle cx="263.7" cy="339.2" r="7.0"/>
<circle cx="294.9" cy="372.9" r="7.0"/>
<circle cx="496.2" cy="349.6" r="7.0"/>
<circle cx="452.2" cy="475.2" r="7.0"/>
<circle cx="390.3" cy="300.3" r="7.0"/>
<circle cx="188.0" cy="218.5" r="7.0"/>
<circle cx="310.4" cy="369.2" r="7.0"/>
<circle cx="227.8" cy="268.8" r="7.0"/>
<circle cx="365.3" cy="320.4" r="7.0"/>
<circle cx="335.6" cy="326.4" r="7.0"/>
<circle cx="281.8" cy="262.9" r="7.0"/>
<circle cx="318.0" cy="216.7" r="7.0"/>
<circle cx="431.3" cy="434.9" r="7.0"/>
<circle cx="477.4" cy="263.0" r="7.0"/>
<circle cx="415.4" cy="306.3" r="7.0"/>
<circle cx="351.5" cy="313.2" r="7.0"/>
<circle cx="449.1" cy="270.7" r="7.0"/>
<circle cx="393.3" cy="201.3" r="7.0"/>
<circle cx="414.2" cy="331.2" r="7.0"/>
<circle cx="333.6" cy="417.8" r="7.0"/>
<circle cx="232.3" cy="283.2" r="7.0"/>
<circle cx="267.9" cy="293.4" r="7.0"/>
<circle cx="271.9" cy="408.2" r="7.0"/>
<circle cx="268.5" cy="280.9" r="7.0"/>
<circle cx="334.7" cy="442.9" r="7.0"/>
<circle cx="394.2" cy="287.8" r="7.0"/>
<circle cx="268.0" cy="324.6" r="7.0"/>
<circle cx="320.0" cy="392.2" r="7.0"/>
<circle cx="226.0" cy="258.8" r="7.0"/>
<circle cx="281.5" cy="381.1" r="7.0"/>
<circle cx="312.1" cy="397.5" r="7.0"/>
<circle cx="444.6" cy="244.6" r="7.0"/>
<circle cx="401.5" cy="449.4" r="7.0"/>
<circle cx="282.7" cy="183.4" r="7.0"/>
<circle cx="551.3" cy="357.1" r="7.0"/>
<circle cx="579.2" cy="548.0" r="7.0"/>
<circle cx="431.4" cy="405.4" r="7.0"/>
<circle cx="358.2" cy="402.3" r="7.0"/>
<circle cx="205.3" cy="368.0" r="7.0"/>
<circle cx="291.0" cy="400.8" r="7.0"/>
<circle cx="424.8" cy="273.2" r="7.0"/>
<circle cx="456.2" cy="420.2" r="7.0"/>
<circle cx="370.9" cy="313.9" r="7.0"/>
<circle cx="343.5" cy="354.3" r="7.0"/>
<circle cx="379.0" cy="350.9" r="7.0"/>
<circle cx="233.6" cy="306.5" r="7.0"/>
<circle cx="350.6" cy="256.9" r="7.0"/>
<circle cx="396.3" cy="476.7" r="7.0"/>
<circle cx="196.1" cy="178.6" r="7.0"/>
<circle cx="319.6" cy="263.8" r="7.0"/>
<circle cx="306.1" cy="349.2" r="7.0"/>
<circle cx="330.0" cy="161.8" r="7.0"/>
<circle cx="315.6" cy="383.6" r="7.0"/>
<circle cx="355.4" cy="221.5" r="7.0"/>
<circle cx="208.3" cy="322.2" r="7.0"/>
<circle cx="295.0" cy="240.2" r="7.0"/>
<circle cx="312.1" cy="278.6" r="7.0"/>
<circle cx="301.6" cy="207.3" r="7.0"/>
<circle cx="455.8" cy="435.0" r="7.0"/>
<circle cx="348.2" cy="294.3" r="7.0"/>
<circle cx="248.5" cy="321.0" r="7.0"/>
<circle cx="403.3" cy="481.0" r="7.0"/>
<circle cx="310.6" cy="273.6" r="7.0"/>
<circle cx="394.4" cy="277.2" r="7.0"/>
<circle cx="231.5" cy="307.5" r="7.0"/>
<circle cx="420.2" cy="382.6" r="7.0"/>
<circle cx="385.2" cy="433.2" r="7.0"/>
<circle cx="272.1" cy="321.2" r="7.0"/>
<circle cx="411.5" cy="446.7" r="7.0"/>
<circle cx="342.3" cy="262.5" r="7.0"/>
<circle cx="311.5" cy="210.5" r="7.0"/>
<circle cx="296.6" cy="411.9" r="7.0"/>
<circle cx="284.3" cy="297.8" r="7.0"/>
<circle cx="312.1" cy="273.0" r="7.0"/>
<circle cx="316.7" cy="294.9" r="7.0"/>
<circle cx="264.4" cy="327.7" r="7.0"/>
<circle cx="383.8" cy="288.6" r="7.0"/>
<circle cx="241.9" cy="350.6" r="7.0"/>
<circle cx="399.9" cy="257.2" r="7.0"/>
<circle cx="398.6" cy="310.1" r="7.0"/>
<circle cx="258.8" cy="359.8" r="7.0"/>
<circle cx="289.1" cy="283.2" r="7.0"/>
<circle cx="417.3" cy="372.1" r="7.0"/>
<circle cx="491.6" cy="418.2" r="7.0"/>
<circle cx="404.1" cy="436.3" r="7.0"/>
<circle cx="239.5" cy="191.0" r="7.0"/>
<circle cx="176.5" cy="344.6" r="7.0"/>
<circle cx="398.9" cy="306.3" r="7.0"/>
<circle cx="406.0" cy="358.8" r="7.0"/>
<circle cx="328.3" cy="273.6" r="7.0"/>
<circle cx="419.8" cy="401.4" r="7.0"/>
<circle cx="420.6" cy="344.5" r="7.0"/>
<circle cx="305.0" cy="356.5" r="7.0"/>
<circle cx="314.6" cy="266.9" r="7.0"/>
<circle cx="300.4" cy="346.0" r="7.0"/>
<circle cx="215.4" cy="256.3" r="7.0"/>
<circle cx="456.7" cy="340.5" r="7.0"/>
<circle cx="476.1" cy="312.0" r="7.0"/>
<circle cx="420.6" cy="358.7" r="7.0"/>
<circle cx="373.7" cy="285.4" r="7.0"/>
<circle cx="356.4" cy="276.4" r="7.0"/>
<circle cx="330.6" cy="165.9" r="7.0"/>
<circle cx="225.8" cy="306.4" r="7.0"/>
<circle cx="376.3" cy="472.4" r="7.0"/>
<circle cx="424.0" cy="256.5" r="7.0"/>
<circle cx="324.8" cy="354.9" r="7.0"/>
<circle cx="320.2" cy="419.9" r="7.0"/>
<circle cx="282.7" cy="249.1" r="7.0"/>
<circle cx="261.4" cy="409.6" r="7.0"/>
<circle cx="301.7" cy="448.4" r="7.0"/>
<circle cx="382.2" cy="158.5" r="7.0"/>
<circle cx="390.7" cy="336.6" r="7.0"/>
<circle cx="312.8" cy="283.3" r="7.0"/>
<circle cx="515.1" cy="428.3" r="7.0"/>
<circle cx="393.3" cy="251.8" r="7.0"/>
<circle cx="335.8" cy="368.7" r="7.0"/>
<circle cx="400.3" cy="233.2" r="7.0"/>
<circle cx="375.2" cy="328.5" r="7.0"/>
<circle cx="305.9" cy="325.3" r="7.0"/>
<circle cx="430.6" cy="507.3" r="7.0"/>
<circle cx="392.1" cy="389.5" r="7.0"/>
<circle cx="292.2" cy="258.1" r="7.0"/>
<circle cx="284.0" cy="342.7" r="7.0"/>
<circle cx="386.7" cy="327.6" r="7.0"/>
<circle cx="258.2" cy="137.5" r="7.0"/>
<circle cx="431.2" cy="493.8" r="7.0"/>
<circle cx="458.4" cy="269.2" r="7.0"/>
<circle cx="423.4" cy="464.3" r="7.0"/>
<circle cx="238.4" cy="232.2" r="7.0"/>
<circle cx="285.4" cy="237.7" r="7.0"/>
<circle cx="262.9" cy="253.7" r="7.0"/>
<circle cx="445.5" cy="271.7" r="7.0"/>
<circle cx="397.2" cy="278.2" r="7.0"/>
<circle cx="394.4" cy="402.1" r="7.0"/>
<circle cx="492.2" cy="328.7" r="7.0"/>
<circle cx="294.3" cy="303.9" r="7.0"/>
<circle cx="403.9" cy="283.4" r="7.0"/>
<circle cx="396.7" cy="373.8" r="7.0"/>
<circle cx="357.4" cy="266.7" r="7.0"/>
<circle cx="458.5" cy="229.1" r="7.0"/>
<circle cx="276.0" cy="312.3" r="7.0"/>
<circle cx="417.0" cy="418.7" r="7.0"/>
<circle cx="326.0" cy="343.7" r="7.0"/>
<circle cx="349.3" cy="272.5" r="7.0"/>
<circle cx="330.0" cy="163.2" r="7.0"/>
<circle cx="335.4" cy="423.8" r="7.0"/>
<circle cx="413.0" cy="242.2" r="7.0"/>
<circle cx="425.9" cy="336.3" r="7.0"/>
<circle cx="280.2" cy="263.7" r="7.0"/>
<circle cx="328.8" cy="166.6" r="7.0"/>
<circle cx="435.6" cy="365.4" r="7.0"/>
<circle cx="503.8" cy="394.9" r="7.0"/>
<circle cx="431.5" cy="440.9" r="7.0"/>
<circle cx="256.8" cy="318.0" r="7.0"/>
<circle cx="194.4" cy="255.3" r="7.0"/>
<circle cx="290.5" cy="246.7" r="7.0"/>
<circle cx="358.1" cy="245.1" r="7.0"/>
<circle cx="404.4" cy="321.8" r="7.0"/>
<circle cx="395.1" cy="364.2" r="7.0"/>
<circle cx="417.5" cy="309.4" r="7.0"/>
<circle cx="171.8" cy="159.2" r="7.0"/>
<circle cx="560.6" cy="381.8" r="7.0"/>
<circle cx="468.3" cy="413.1" r="7.0"/>
<circle cx="379.3" cy="267.5" r="7.0"/>
<circle cx="383.0" cy="412.8" r="7.0"/>
<circle cx="319.6" cy="258.2" r="7.0"/>
<circle cx="499.6" cy="464.3" r="7.0"/>
<circle cx="317.5" cy="433.1" r="7.0"/>
<circle cx="462.4" cy="267.2" r="7.0"/>
<circle cx="245.1" cy="272.7" r="7.0"/>
<circle cx="283.9" cy="363.7" r="7.0"/>
<circle cx="414.4" cy="253.3" r="7.0"/>
<circle cx="380.1" cy="335.3" r="7.0"/>
<circle cx="435.4" cy="326.6" r="7.0"/>
<circle cx="365.8" cy="418.1" r="7.0"/>
<circle cx="291.3" cy="240.2" r="7.0"/>
<circle cx="394.6" cy="224.4" r="7.0"/>
<circle cx="187.6" cy="256.1" r="7.0"/>
<circle cx="478.0" cy="476.6" r="7.0"/>
<circle cx="479.6" cy="468.4" r="7.0"/>
<circle cx="379.2" cy="262.9" r="7.0"/>
<circle cx="302.0" cy="401.3" r="7.0"/>
<circle cx="310.4" cy="289.9" r="7.0"/>
<circle cx="417.0" cy="389.2" r="7.0"/>
<circle cx="457.4" cy="269.9" r="7.0"/>
<circle cx="357.8" cy="267.6" r="7.0"/>
<circle cx="558.1" cy="383.5" r="7.0"/>
<circle cx="209.0" cy="409.7" r="7.0"/>
<circle cx="344.4" cy="411.4" r="7.0"/>
<circle cx="530.9" cy="298.5" r="7.0"/>
<circle cx="393.9" cy="241.9" r="7.0"/>
<circle cx="425.9" cy="474.9" r="7.0"/>
<circle cx="553.6" cy="544.1" r="7.0"/>
<circle cx="308.6" cy="260.0" r="7.0"/>
<circle cx="440.8" cy="359.3" r="7.0"/>
<circle cx="422.5" cy="357.4" r="7.0"/>
<circle cx="249.6" cy="213.1" r="7.0"/>
<circle cx="357.8" cy="224.7" r="7.0"/>
<circle cx="302.3" cy="372.5" r="7.0"/>
<circle cx="462.4" cy="301.4" r="7.0"/>
<circle cx="250.9" cy="449.8" r="7.0"/>
<circle cx="454.4" cy="384.3" r="7.0"/>
<circle cx="262.9" cy="135.0" r="7.0"/>
<circle cx="347.0" cy="354.2" r="7.0"/>
<circle cx="246.1" cy="410.9" r="7.0"/>
<circle cx="490.7" cy="288.8" r="7.0"/>
<circle cx="278.0" cy="337.2" r="7.0"/>
<circle cx="258.3" cy="230.8" r="7.0"/>
<circle cx="387.8" cy="342.9" r="7.0"/>
<circle cx="532.5" cy="394.0" r="7.0"/>
<circle cx="371.3" cy="394.8" r="7.0"/>
<circle cx="369.7" cy="326.5" r="7.0"/>
<circle cx="334.1" cy="405.3" r="7.0"/>
<circle cx="465.3" cy="295.3" r="7.0"/>
<circle cx="362.0" cy="352.6" r="7.0"/>
<circle cx="459.6" cy="303.1" r="7.0"/>
<circle cx="467.7" cy="515.3" r="7.0"/>
<circle cx="356.4" cy="347.6" r="7.0"/>
<circle cx="277.9" cy="440.3" r="7.0"/>
<circle cx="246.5" cy="325.0" r="7.0"/>
<circle cx="354.3" cy="206.3" r="7.0"/>
<circle cx="390.0" cy="220.4" r="7.0"/>
<circle cx="442.5" cy="343.9" r="7.0"/>
<circle cx="416.0" cy="501.2" r="7.0"/>
<circle cx="368.8" cy="372.1" r="7.0"/>
<circle cx="453.5" cy="387.3" r="7.0"/>
<circle cx="506.9" cy="372.0" r="7.0"/>
<circle cx="272.3" cy="193.9" r="7.0"/>
<circle cx="410.5" cy="244.4" r="7.0"/>
<circle cx="425.9" cy="226.5" r="7.0"/>
<circle cx="277.7" cy="332.6" r="7.0"/>
<circle cx="372.5" cy="272.4" r="7.0"/>
<circle cx="352.9" cy="311.6" r="7.0"/>
<circle cx="433.2" cy="340.3" r="7.0"/>
<circle cx="390.4" cy="283.2" r="7.0"/>
<circle cx="162.2" cy="265.5" r="7.0"/>
<circle cx="285.3" cy="347.6" r="7.0"/>
<circle cx="379.7" cy="372.9" r="7.0"/>
<circle cx="359.0" cy="263.6" r="7.0"/>
<circle cx="439.9" cy="302.5" r="7.0"/>
<circle cx="299.9" cy="275.8" r="7.0"/>
<circle cx="308.8" cy="128.1" r="7.0"/>
<circle cx="470.1" cy="242.2" r="7.0"/>
<circle cx="392.1" cy="211.4" r="7.0"/>
<circle cx="298.5" cy="234.0" r="7.0"/>
<circle cx="299.8" cy="187.2" r="7.0"/>
<circle cx="280.5" cy="328.3" r="7.0"/>
<circle cx="213.5" cy="294.9" r="7.0"/>
<circle cx="287.3" cy="354.9" r="7.0"/>
<circle cx="451.2" cy="234.2" r="7.0"/>
<circle cx="217.4" cy="303.8" r="7.0"/>
<circle cx="380.3" cy="391.6" r="7.0"/>
<circle cx="275.6" cy="369.5" r="7.0"/>
<circle cx="288.8" cy="276.4" r="7.0"/>
<circle cx="379.6" cy="265.8" r="7.0"/>
<circle cx="334.0" cy="442.7" r="7.0"/>
<circle cx="314.0" cy="222.3" r="7.0"/>
<circle cx="453.0" cy="354.8" r="7.0"/>
<circle cx="329.0" cy="367.3" r="7.0"/>
<circle cx="278.8" cy="427.5" r="7.0"/>
<circle cx="327.2" cy="364.3" r="7.0"/>
<circle cx="245.6" cy="224.5" r="7.0"/>
<circle cx="419.2" cy="447.5" r="7.0"/>
<circle cx="435.9" cy="494.2" r="7.0"/>
<circle cx="359.7" cy="412.6" r="7.0"/>
<circle cx="423.8" cy="359.9" r="7.0"/>
<circle cx="292.6" cy="362.9" r="7.0"/>
<circle cx="152.2" cy="229.4" r="7.0"/>
<circle cx="469.4" cy="293.3" r="7.0"/>
<circle cx="271.8" cy="273.8" r="7.0"/>
<circle cx="385.2" cy="424.3" r="7.0"/>
<circle cx="404.0" cy="319.9" r="7.0"/>
<circle cx="307.6" cy="195.9" r="7.0"/>
<circle cx="308.2" cy="393.8" r="7.0"/>
<circle cx="370.1" cy="335.6" r="7.0"/>
<circle cx="283.6" cy="273.7" r="7.0"/>
<circle cx="424.0" cy="417.8" r="7.0"/>
<circle cx="317.6" cy="324.4" r="7.0"/>
<circle cx="421.0" cy="247.7" r="7.0"/>
<circle cx="391.9" cy="293.0" r="7.0"/>
<circle cx="345.2" cy="144.1" r="7.0"/>
<circle cx="304.7" cy="166.0" r="7.0"/>
<circle cx="223.8" cy="265.0" r="7.0"/>
<circle cx="188.4" cy="232.4" r="7.0"/>
<circle cx="405.0" cy="299.9" r="7.0"/>
<circle cx="380.1" cy="316.1" r="7.0"/>
<circle cx="513.0" cy="388.6" r="7.0"/>
<circle cx="353.9" cy="521.1" r="7.0"/>
<circle cx="493.6" cy="308.7" r="7.0"/>
<circle cx="500.1" cy="325.7" r="7.0"/>
<circle cx="317.4" cy="332.6" r="7.0"/>
<circle cx="499.0" cy="400.5" r="7.0"/>
<circle cx="512.4" cy="385.2" r="7.0"/>
<circle cx="207.3" cy="366.8" r="7.0"/>
<circle cx="367.8" cy="257.0" r="7.0"/>
<circle cx="494.5" cy="348.2" r="7.0"/>
<circle cx="243.9" cy="128.3" r="7.0"/>
<circle cx="431.7" cy="505.4" r="7.0"/>
<circle cx="336.3" cy="256.2" r="7.0"/>
<circle cx="252.8" cy="305.9" r="7.0"/>
<circle cx="249.5" cy="331.2" r="7.0"/>
<circle cx="441.0" cy="352.5" r="7.0"/>
<circle cx="377.3" cy="327.2" r="7.0"/>
<circle cx="461.0" cy="399.7" r="7.0"/>
<circle cx="349.4" cy="390.3" r="7.0"/>
<circle cx="570.0" cy="311.4" r="7.0"/>
<circle cx="392.7" cy="424.6" r="7.0"/>
<circle cx="365.8" cy="171.9" r="7.0"/>
<circle cx="370.3" cy="250.6" r="7.0"/>
<circle cx="299.6" cy="142.8" r="7.0"/>
<circle cx="291.4" cy="195.7" r="7.0"/>
<circle cx="315.4" cy="320.1" r="7.0"/>
<circle cx="418.0" cy="460.7" r="7.0"/>
<circle cx="504.4" cy="346.7" r="7.0"/>
<circle cx="420.1" cy="309.7" r="7.0"/>
<circle cx="499.1" cy="477.2" r="7.0"/>
<circle cx="374.6" cy="417.9" r="7.0"/>
<circle cx="237.9" cy="427.9" r="7.0"/>
<circle cx="259.3" cy="213.8" r="7.0"/>
<circle cx="438.2" cy="464.7" r="7.0"/>
<circle cx="400.6" cy="384.9" r="7.0"/>
<circle cx="319.6" cy="538.8" r="7.0"/>
<circle cx="195.8" cy="319.1" r="7.0"/>
<circle cx="495.8" cy="296.3" r="7.0"/>
<circle cx="497.3" cy="203.1" r="7.0"/>
<circle cx="427.7" cy="259.4" r="7.0"/>
<circle cx="261.5" cy="257.7" r="7.0"/>
<circle cx="439.8" cy="219.9" r="7.0"/>
<circle cx="461.0" cy="307.9" r="7.0"/>
<circle cx="472.7" cy="484.4" r="7.0"/>
<circle cx="432.5" cy="361.3" r="7.0"/>
<circle cx="277.6" cy="269.3" r="7.0"/>
<circle cx="456.8" cy="388.9" r="7.0"/>
<circle cx="340.8" cy="527.5" r="7.0"/>
<circle cx="187.8" cy="370.6" r="7.0"/>
<circle cx="212.0" cy="414.3" r="7.0"/>
<circle cx="306.6" cy="427.5" r="7.0"/>
<circle cx="307.0" cy="409.2" r="7.0"/>
<circle cx="395.9" cy="300.7" r="7.0"/>
<circle cx="294.4" cy="190.2" r="7.0"/>
<circle cx="460.2" cy="291.3" r="7.0"/>
<circle cx="477.2" cy="378.0" r="7.0"/>
<circle cx="239.1" cy="345.3" r="7.0"/>
<circle cx="391.6" cy="149.0" r="7.0"/>
<circle cx="481.1" cy="350.8" r="7.0"/>
<circle cx="274.4" cy="452.5" r="7.0"/>
<circle cx="470.0" cy="293.6" r="7.0"/>
<circle cx="327.6" cy="473.2" r="7.0"/>
<circle cx="344.4" cy="175.7" r="7.0"/>
<circle cx="464.3" cy="329.9" r="7.0"/>
<circle cx="314.3" cy="378.0" r="7.0"/>
<circle cx="372.0" cy="479.5" r="7.0"/>
<circle cx="402.3" cy="309.8" r="7.0"/>
<circle cx="196.7" cy="348.2" r="7.0"/>
<circle cx="455.8" cy="485.3" r="7.0"/>
<circle cx="381.1" cy="314.4" r="7.0"/>
<circle cx="314.7" cy="239.0" r="7.0"/>
<circle cx="323.2" cy="262.3" r="7.0"/>
<circle cx="218.7" cy="162.6" r="7.0"/>
<circle cx="270.3" cy="246.4" r="7.0"/>
<circle cx="341.8" cy="360.3" r="7.0"/>
<circle cx="408.9" cy="356.6" r="7.0"/>
<circle cx="232.1" cy="375.9" r="7.0"/>
<circle cx="395.4" cy="390.2" r="7.0"/>
<circle cx="267.6" cy="286.8" r="7.0"/>
<circle cx="462.9" cy="467.9" r="7.0"/>
<circle cx="386.0" cy="336.4" r="7.0"/>
<circle cx="384.0" cy="231.2" r="7.0"/>
<circle cx="426.7" cy="192.9" r="7.0"/>
<circle cx="345.7" cy="317.5" r="7.0"/>
<circle cx="413.7" cy="414.1" r="7.0"/>
<circle cx="349.2" cy="344.1" r="7.0"/>
<circle cx="364.6" cy="318.2" r="7.0"/>
<circle cx="368.1" cy="282.9" r="7.0"/>
<circle cx="538.7" cy="323.0" r="7.0"/>
<circle cx="346.3" cy="245.1" r="7.0"/>
<circle cx="329.4" cy="379.3" r="7.0"/>
<circle cx="248.9" cy="288.6" r="7.0"/>
<circle cx="219.6" cy="342.6" r="7.0"/>
<circle cx="245.1" cy="238.7" r="7.0"/>
<circle cx="350.4" cy="288.3" r="7.0"/>
<circle cx="332.4" cy="317.1" r="7.0"/>
<circle cx="369.9" cy="352.7" r="7.0"/>
<circle cx="494.9" cy="414.6" r="7.0"/>
<circle cx="280.6" cy="216.9" r="7.0"/>
<circle cx="325.1" cy="343.2" r="7.0"/>
<circle cx="524.8" cy="447.3" r="7.0"/>
<circle cx="398.3" cy="192.5" r="7.0"/>
<circle cx="388.3" cy="244.2" r="7.0"/>
<circle cx="302.0" cy="353.8" r="7.0"/>
<circle cx="448.3" cy="271.9" r="7.0"/>
<circle cx="356.9" cy="396.7" r="7.0"/>
<circle cx="247.0" cy="286.6" r="7.0"/>
<circle cx="466.3" cy="428.4" r="7.0"/>
<circle cx="402.4" cy="501.2" r="7.0"/>
<circle cx="323.0" cy="217.6" r="7.0"/>
<circle cx="483.1" cy="337.6" r="7.0"/>
<circle cx="389.8" cy="328.5" r="7.0"/>
<circle cx="479.9" cy="376.5" r="7.0"/>
<circle cx="497.7" cy="486.4" r="7.0"/>
<circle cx="252.7" cy="348.0" r="7.0"/>
<circle cx="458.0" cy="436.7" r="7.0"/>
<circle cx="322.7" cy="323.2" r="7.0"/>
<circle cx="278.9" cy="245.1" r="7.0"/>
<circle cx="292.1" cy="131.9" r="7.0"/>
<circle cx="348.7" cy="300.7" r="7.0"/>
<circle cx="265.5" cy="331.4" r="7.0"/>
<circle cx="352.9" cy="475.9" r="7.0"/>
<circle cx="478.5" cy="273.6" r="7.0"/>
<circle cx="351.8" cy="107.1" r="7.0"/>
<circle cx="422.6" cy="489.5" r="7.0"/>
<circle cx="388.3" cy="384.9" r="7.0"/>
<circle cx="234.0" cy="211.1" r="7.0"/>
<circle cx="336.4" cy="250.5" r="7.0"/>
<circle cx="331.9" cy="254.3" r="7.0"/>
<circle cx="327.2" cy="441.5" r="7.0"/>
<circle cx="450.3" cy="439.9" r="7.0"/>
<circle cx="315.9" cy="197.4" r="7.0"/>
<circle cx="429.9" cy="358.3" r="7.0"/>
<circle cx="503.9" cy="440.5" r="7.0"/>
<circle cx="419.4" cy="257.1" r="7.0"/>
<circle cx="502.6" cy="439.4" r="7.0"/>
<circle cx="296.4" cy="242.8" r="7.0"/>
<circle cx="309.3" cy="275.5" r="7.0"/>
<circle cx="316.0" cy="424.6" r="7.0"/>
<circle cx="424.2" cy="246.6" r="7.0"/>
<circle cx="253.6" cy="357.3" r="7.0"/>
<circle cx="312.7" cy="184.7" r="7.0"/>
<circle cx="162.1" cy="288.2" r="7.0"/>
<circle cx="507.0" cy="196.7" r="7.0"/>
<circle cx="313.9" cy="222.9" r="7.0"/>
<circle cx="280.6" cy="267.0" r="7.0"/>
<circle cx="434.1" cy="249.4" r="7.0"/>
<circle cx="323.1" cy="321.6" r="7.0"/>
<circle cx="557.4" cy="388.3" r="7.0"/>
<circle cx="488.6" cy="415.8" r="7.0"/>
<circle cx="321.1" cy="523.1" r="7.0"/>
<circle cx="305.6" cy="354.4" r="7.0"/>
<circle cx="473.3" cy="288.5" r="7.0"/>
<circle cx="408.3" cy="359.4" r="7.0"/>
<circle cx="264.0" cy="169.0" r="7.0"/>
<circle cx="528.0" cy="327.2" r="7.0"/>
<circle cx="257.9" cy="218.2" r="7.0"/>
<circle cx="522.8" cy="280.6" r="7.0"/>
<circle cx="358.7" cy="381.7" r="7.0"/>
<circle cx="314.1" cy="367.8" r="7.0"/>
<circle cx="300.3" cy="212.2" r="7.0"/>
<circle cx="409.0" cy="239.1" r="7.0"/>
<circle cx="456.4" cy="441.7" r="7.0"/>
<circle cx="412.9" cy="222.0" r="7.0"/>
<circle cx="358.2" cy="396.1" r="7.0"/>
<circle cx="294.0" cy="317.5" r="7.0"/>
<circle cx="400.5" cy="191.3" r="7.0"/>
<circle cx="337.1" cy="313.1" r="7.0"/>
<circle cx="437.7" cy="275.1" r="7.0"/>
<circle cx="359.8" cy="285.0" r="7.0"/>
<circle cx="406.2" cy="236.2" r="7.0"/>
<circle cx="397.2" cy="268.5" r="7.0"/>
<circle cx="305.9" cy="438.4" r="7.0"/>
<circle cx="319.3" cy="302.7" r="7.0"/>
<circle cx="454.8" cy="398.9" r="7.0"/>
<circle cx="412.7" cy="261.9" r="7.0"/>
<circle cx="334.5" cy="203.2" r="7.0"/>
<circle cx="391.7" cy="349.0" r="7.0"/>
<circle cx="278.0" cy="287.5" r="7.0"/>
<circle cx="505.8" cy="398.7" r="7.0"/>
<circle cx="538.2" cy="498.9" r="7.0"/>
<circle cx="390.2" cy="314.1" r="7.0"/>
<circle cx="354.5" cy="480.8" r="7.0"/>
<circle cx="239.5" cy="309.0" r="7.0"/>
<circle cx="248.2" cy="294.1" r="7.0"/>
<circle cx="383.8" cy="371.7" r="7.0"/>
<circle cx="273.6" cy="291.2" r="7.0"/>
<circle cx="402.2" cy="303.8" r="7.0"/>
<circle cx="298.0" cy="169.8" r="7.0"/>
<circle cx="442.9" cy="318.6" r="7.0"/>
<circle cx="503.6" cy="370.2" r="7.0"/>
<circle cx="344.8" cy="406.1" r="7.0"/>
<circle cx="493.2" cy="283.4" r="7.0"/>
<circle cx="328.1" cy="409.5" r="7.0"/>
<circle cx="378.4" cy="240.6" r="7.0"/>
<circle cx="461.1" cy="294.2" r="7.0"/>
<circle cx="304.5" cy="233.3" r="7.0"/>
<circle cx="340.2" cy="359.6" r="7.0"/>
<circle cx="429.4" cy="432.5" r="7.0"/>
<circle cx="269.9" cy="385.5" r="7.0"/>
<circle cx="264.6" cy="226.4" r="7.0"/>
<circle cx="456.9" cy="438.8" r="7.0"/>
<circle cx="416.5" cy="405.4" r="7.0"/>
<circle cx="249.8" cy="341.0" r="7.0"/>
<circle cx="443.6" cy="355.2" r="7.0"/>
<circle cx="404.6" cy="191.8" r="7.0"/>
<circle cx="424.1" cy="403.3" r="7.0"/>
<circle cx="336.5" cy="285.2" r="7.0"/>
<circle cx="299.6" cy="240.4" r="7.0"/>
<circle cx="238.1" cy="232.6" r="7.0"/>
<circle cx="419.2" cy="410.9" r="7.0"/>
<circle cx="239.0" cy="169.5" r="7.0"/>
<circle cx="255.4" cy="384.6" r="7.0"/>
<circle cx="175.8" cy="258.5" r="7.0"/>
<circle cx="417.1" cy="400.0" r="7.0"/>
<circle cx="380.0" cy="377.0" r="7.0"/>
<circle cx="489.1" cy="411.4" r="7.0"/>
<circle cx="496.2" cy="406.2" r="7.0"/>
<circle cx="294.8" cy="292.0" r="7.0"/>
<circle cx="275.9" cy="296.1" r="7.0"/>
<circle cx="254.5" cy="244.2" r="7.0"/>
<circle cx="362.5" cy="190.8" r="7.0"/>
<circle cx="396.6" cy="221.8" r="7.0"/>
<circle cx="524.7" cy="473.4" r="7.0"/>
<circle cx="329.2" cy="295.2" r="7.0"/>
<circle cx="420.1" cy="474.7" r="7.0"/>
<circle cx="488.4" cy="429.0" r="7.0"/>
<circle cx="400.3" cy="338.2" r="7.0"/>
<circle cx="477.1" cy="327.9" r="7.0"/>
<circle cx="349.5" cy="266.2" r="7.0"/>
<circle cx="394.0" cy="370.5" r="7.0"/>
<circle cx="513.4" cy="419.8" r="7.0"/>
<circle cx="258.2" cy="294.6" r="7.0"/>
<circle cx="471.1" cy="329.6" r="7.0"/>
<circle cx="307.9" cy="230.2" r="7.0"/>
<circle cx="438.7" cy="327.7" r="7.0"/>
<circle cx="481.7" cy="218.2" r="7.0"/>
<circle cx="210.7" cy="353.6" r="7.0"/>
<circle cx="455.6" cy="394.3" r="7.0"/>
<circle cx="443.0" cy="300.3" r="7.0"/>
<circle cx="306.3" cy="316.7" r="7.0"/>
<circle cx="445.2" cy="342.3" r="7.0"/>
<circle cx="394.5" cy="357.3" r="7.0"/>
<circle cx="247.5" cy="240.4" r="7.0"/>
<circle cx="487.0" cy="373.1" r="7.0"/>
<circle cx="406.1" cy="264.8" r="7.0"/>
<circle cx="254.2" cy="344.8" r="7.0"/>
<circle cx="170.1" cy="226.8" r="7.0"/>
<circle cx="324.5" cy="333.9" r="7.0"/>
<circle cx="400.1" cy="194.6" r="7.0"/>
<circle cx="373.6" cy="185.6" r="7.0"/>
<circle cx="392.6" cy="444.8" r="7.0"/>
<circle cx="348.9" cy="207.5" r="7.0"/>
<circle cx="340.4" cy="488.8" r="7.0"/>
<circle cx="251.7" cy="305.2" r="7.0"/>
<circle cx="300.3" cy="330.0" r="7.0"/>
<circle cx="384.5" cy="256.8" r="7.0"/>
<circle cx="507.1" cy="431.1" r="7.0"/>
<circle cx="315.5" cy="262.3" r="7.0"/>
</g>
</g></g>
<line x1="145.5" y1="262" x2="631.5" y2="402.1" stroke="#1569b3" stroke-width="2.2"/>
<line x1="140.4" y1="265.8" x2="629.3" y2="408.9" stroke="#f07a0c" stroke-width="2.2"/>
<rect x="117.0" y="44.0" width="538.5" height="534.9" fill="none" stroke="#000" stroke-width="2"/>
<line x1="175.40" y1="578.9" x2="175.40" y2="585.9" stroke="#000" stroke-width="2"/>
<line x1="117.0" y1="518.60" x2="110.0" y2="518.60" stroke="#000" stroke-width="2"/>
<line x1="240.18" y1="578.9" x2="240.18" y2="585.9" stroke="#000" stroke-width="2"/>
<line x1="117.0" y1="454.46" x2="110.0" y2="454.46" stroke="#000" stroke-width="2"/>
<line x1="304.96" y1="578.9" x2="304.96" y2="585.9" stroke="#000" stroke-width="2"/>
<line x1="117.0" y1="390.32" x2="110.0" y2="390.32" stroke="#000" stroke-width="2"/>
<line x1="369.74" y1="578.9" x2="369.74" y2="585.9" stroke="#000" stroke-width="2"/>
<line x1="117.0" y1="326.18" x2="110.0" y2="326.18" stroke="#000" stroke-width="2"/>
<line x1="434.52" y1="578.9" x2="434.52" y2="585.9" stroke="#000" stroke-width="2"/>
<line x1="117.0" y1="262.04" x2="110.0" y2="262.04" stroke="#000" stroke-width="2"/>
<line x1="499.30" y1="578.9" x2="499.30" y2="585.9" stroke="#000" stroke-width="2"/>
<line x1="117.0" y1="197.90" x2="110.0" y2="197.90" stroke="#000" stroke-width="2"/>
<line x1="564.08" y1="578.9" x2="564.08" y2="585.9" stroke="#000" stroke-width="2"/>
<line x1="117.0" y1="133.76" x2="110.0" y2="133.76" stroke="#000" stroke-width="2"/>
<line x1="628.86" y1="578.9" x2="628.86" y2="585.9" stroke="#000" stroke-width="2"/>
<line x1="117.0" y1="69.62" x2="110.0" y2="69.62" stroke="#000" stroke-width="2"/>
<rect x="868.70" y="576.80" width="24.50" height="1.80" fill="rgb(161,180,220)" stroke="#1a1a1a" stroke-width="1.5"/>
<rect x="893.20" y="571.50" width="24.50" height="7.10" fill="rgb(161,180,220)" stroke="#1a1a1a" stroke-width="1.5"/>
<rect x="917.70" y="548.90" width="24.50" height="29.70" fill="rgb(161,180,220)" stroke="#1a1a1a" stroke-width="1.5"/>
<rect x="942.20" y="399.10" width="24.50" height="179.50" fill="rgb(161,180,220)" stroke="#1a1a1a" stroke-width="1.5"/>
<rect x="966.70" y="385.80" width="24.50" height="192.80" fill="rgb(161,180,220)" stroke="#1a1a1a" stroke-width="1.5"/>
<rect x="991.20" y="510.50" width="24.50" height="68.10" fill="rgb(161,180,220)" stroke="#1a1a1a" stroke-width="1.5"/>
<rect x="1015.70" y="560.00" width="24.50" height="18.60" fill="rgb(161,180,220)" stroke="#1a1a1a" stroke-width="1.5"/>
<rect x="1040.20" y="560.30" width="24.50" height="18.30" fill="rgb(161,180,220)" stroke="#1a1a1a" stroke-width="1.5"/>
<rect x="1064.70" y="566.00" width="24.50" height="12.60" fill="rgb(161,180,220)" stroke="#1a1a1a" stroke-width="1.5"/>
<rect x="1089.20" y="565.60" width="24.50" height="13.00" fill="rgb(161,180,220)" stroke="#1a1a1a" stroke-width="1.5"/>
<rect x="1113.70" y="571.60" width="24.50" height="7.00" fill="rgb(161,180,220)" stroke="#1a1a1a" stroke-width="1.5"/>
<rect x="1138.20" y="576.80" width="24.50" height="1.80" fill="rgb(161,180,220)" stroke="#1a1a1a" stroke-width="1.5"/>
<rect x="1162.70" y="575.10" width="24.50" height="3.50" fill="rgb(161,180,220)" stroke="#1a1a1a" stroke-width="1.5"/>
<rect x="1285.20" y="575.40" width="24.50" height="3.20" fill="rgb(161,180,220)" stroke="#1a1a1a" stroke-width="1.5"/>
<rect x="963.10" y="70.00" width="11.85" height="508.60" fill="rgb(242,128,20)" fill-opacity="0.75" stroke="#000" stroke-opacity="0.8" stroke-width="1.5"/>
<rect x="974.95" y="533.70" width="11.85" height="44.90" fill="rgb(242,128,20)" fill-opacity="0.75" stroke="#000" stroke-opacity="0.8" stroke-width="1.5"/>
<rect x="986.80" y="573.20" width="11.85" height="5.40" fill="rgb(242,128,20)" fill-opacity="0.75" stroke="#000" stroke-opacity="0.8" stroke-width="1.5"/>
<rect x="998.65" y="576.90" width="11.85" height="1.70" fill="rgb(242,128,20)" fill-opacity="0.75" stroke="#000" stroke-opacity="0.8" stroke-width="1.5"/>
<rect x="1046.05" y="576.90" width="11.85" height="1.70" fill="rgb(242,128,20)" fill-opacity="0.75" stroke="#000" stroke-opacity="0.8" stroke-width="1.5"/>
<rect x="1069.75" y="575.30" width="11.85" height="3.30" fill="rgb(242,128,20)" fill-opacity="0.75" stroke="#000" stroke-opacity="0.8" stroke-width="1.5"/>
<rect x="1211.95" y="577.00" width="11.85" height="1.60" fill="rgb(242,128,20)" fill-opacity="0.75" stroke="#000" stroke-opacity="0.8" stroke-width="1.5"/>
<path d="M868.3,576.2 L869.8,576.1 L871.3,576.0 L872.8,575.8 L874.3,575.7 L875.8,575.5 L877.3,575.4 L878.8,575.2 L880.3,575.0 L881.8,574.8 L883.3,574.6 L884.8,574.3 L886.3,574.1 L887.8,573.8 L889.3,573.4 L890.8,573.1 L892.3,572.7 L893.8,572.2 L895.3,571.7 L896.8,571.1 L898.3,570.5 L899.8,569.8 L901.3,569.0 L902.8,568.1 L904.3,567.1 L905.8,566.0 L907.3,564.8 L908.8,563.5 L910.3,562.0 L911.8,560.3 L913.3,558.4 L914.8,556.4 L916.3,554.2 L917.8,551.7 L919.3,549.0 L920.8,546.1 L922.3,542.9 L923.8,539.5 L925.3,535.7 L926.8,531.7 L928.3,527.3 L929.8,522.7 L931.3,517.8 L932.8,512.6 L934.3,507.1 L935.8,501.4 L937.3,495.5 L938.8,489.4 L940.3,483.2 L941.8,476.9 L943.3,470.6 L944.8,464.4 L946.3,458.2 L947.8,452.3 L949.3,446.5 L950.8,441.1 L952.3,435.9 L953.8,431.1 L955.3,426.7 L956.8,422.7 L958.3,419.2 L959.8,416.1 L961.3,413.4 L962.8,411.3 L964.3,409.5 L965.8,408.3 L967.3,407.5 L968.8,407.1 L970.3,407.3 L971.8,407.9 L973.3,408.9 L974.8,410.4 L976.3,412.3 L977.8,414.7 L979.3,417.4 L980.8,420.6 L982.3,424.1 L983.8,428.0 L985.3,432.1 L986.8,436.6 L988.3,441.2 L989.8,446.1 L991.3,451.2 L992.8,456.3 L994.3,461.6 L995.8,466.8 L997.3,472.1 L998.8,477.4 L1000.3,482.6 L1001.8,487.7 L1003.3,492.7 L1004.8,497.5 L1006.3,502.2 L1007.8,506.7 L1009.3,511.0 L1010.8,515.1 L1012.3,519.0 L1013.8,522.7 L1015.3,526.1 L1016.8,529.3 L1018.3,532.3 L1019.8,535.1 L1021.3,537.6 L1022.8,540.0 L1024.3,542.2 L1025.8,544.1 L1027.3,545.9 L1028.8,547.6 L1030.3,549.1 L1031.8,550.4 L1033.3,551.6 L1034.8,552.7 L1036.3,553.7 L1037.8,554.6 L1039.3,555.4 L1040.8,556.1 L1042.3,556.8 L1043.8,557.4 L1045.3,557.9 L1046.8,558.4 L1048.3,558.9 L1049.8,559.3 L1051.3,559.7 L1052.8,560.0 L1054.3,560.4 L1055.8,560.7 L1057.3,561.0 L1058.8,561.3 L1060.3,561.6 L1061.8,561.9 L1063.3,562.1 L1064.8,562.4 L1066.3,562.7 L1067.8,562.9 L1069.3,563.2 L1070.8,563.4 L1072.3,563.7 L1073.8,563.9 L1075.3,564.2 L1076.8,564.5 L1078.3,564.7 L1079.8,565.0 L1081.3,565.2 L1082.8,565.5 L1084.3,565.7 L1085.8,566.0 L1087.3,566.3 L1088.8,566.5 L1090.3,566.8 L1091.8,567.0 L1093.3,567.3 L1094.8,567.5 L1096.3,567.8 L1097.8,568.1 L1099.3,568.3 L1100.8,568.6 L1102.3,568.8 L1103.8,569.0 L1105.3,569.3 L1106.8,569.5 L1108.3,569.8 L1109.8,570.0 L1111.3,570.2 L1112.8,570.5 L1114.3,570.7 L1115.8,570.9 L1117.3,571.1 L1118.8,571.4 L1120.3,571.6 L1121.8,571.8 L1123.3,572.0 L1124.8,572.2 L1126.3,572.4 L1127.8,572.6 L1129.3,572.8 L1130.8,573.0 L1132.3,573.2 L1133.8,573.3 L1135.3,573.5 L1136.8,573.7 L1138.3,573.9 L1139.8,574.0 L1141.3,574.2 L1142.8,574.3 L1144.3,574.5 L1145.8,574.6 L1147.3,574.8 L1148.8,574.9 L1150.3,575.0 L1151.8,575.2 L1153.3,575.3 L1154.8,575.4 L1156.3,575.5 L1157.8,575.7 L1159.3,575.8 L1160.8,575.9 L1162.3,576.0 L1163.8,576.1 L1165.3,576.2 L1166.8,576.3 L1168.3,576.4 L1169.8,576.4 L1171.3,576.5 L1172.8,576.6 L1174.3,576.7 L1175.8,576.7 L1177.3,576.8 L1178.8,576.9 L1180.3,576.9 L1181.8,577.0 L1183.3,577.0 L1184.8,577.1 L1186.3,577.1 L1187.8,577.2 L1189.3,577.2 L1190.8,577.3 L1192.3,577.3 L1193.8,577.3 L1195.3,577.4 L1196.8,577.4 L1198.3,577.4 L1199.8,577.5 L1201.3,577.5 L1202.8,577.5 L1204.3,577.5 L1205.8,577.5 L1207.3,577.5 L1208.8,577.5 L1210.3,577.6 L1211.8,577.6 L1213.3,577.6 L1214.8,577.6 L1216.3,577.6 L1217.8,577.6 L1219.3,577.6 L1220.8,577.6 L1222.3,577.6 L1223.8,577.5 L1225.3,577.5 L1226.8,577.5 L1228.3,577.5 L1229.8,577.5 L1231.3,577.5 L1232.8,577.5 L1234.3,577.5 L1235.8,577.4 L1237.3,577.4 L1238.8,577.4 L1240.3,577.4 L1241.8,577.4 L1243.3,577.3 L1244.8,577.3 L1246.3,577.3 L1247.8,577.3 L1249.3,577.2 L1250.8,577.2 L1252.3,577.2 L1253.8,577.2 L1255.3,577.1 L1256.8,577.1 L1258.3,577.1 L1259.8,577.1 L1261.3,577.0 L1262.8,577.0 L1264.3,577.0 L1265.8,577.0 L1267.3,577.0 L1268.8,576.9 L1270.3,576.9 L1271.8,576.9 L1273.3,576.9 L1274.8,576.8 L1276.3,576.8 L1277.8,576.8 L1279.3,576.8 L1280.8,576.8 L1282.3,576.8 L1283.8,576.8 L1285.3,576.7 L1286.8,576.7 L1288.3,576.7 L1289.8,576.7 L1291.3,576.7 L1292.8,576.7 L1294.3,576.7 L1295.8,576.7 L1297.3,576.7 L1298.8,576.7 L1300.3,576.7 L1301.8,576.7 L1303.3,576.7 L1304.8,576.7 L1306.3,576.7 L1307.8,576.7 L1309.3,576.7 L1310.8,576.7 L1312.3,576.7 L1313.8,576.7 L1315.3,576.8 L1316.8,576.8 L1318.3,576.8 L1319.8,576.8 L1321.3,576.8 L1322.8,576.8 L1324.3,576.9 L1325.8,576.9 L1327.3,576.9 L1328.8,576.9 L1330.3,576.9 L1331.8,577.0 L1333.3,577.0 L1334.8,577.0 L1336.3,577.1 L1337.8,577.1 L1339.3,577.1 L1340.8,577.1 L1342.3,577.2 L1343.8,577.2 L1345.3,577.2 L1346.8,577.3 L1348.3,577.3 L1349.8,577.3 L1351.3,577.3 L1352.8,577.4 L1354.3,577.4 L1355.8,577.4 L1357.3,577.5 L1358.8,577.5" fill="none" stroke="#1870b8" stroke-width="2.6" stroke-linejoin="round" stroke-linecap="round"/>
<rect x="844.6" y="44.0" width="538.4" height="534.6" fill="none" stroke="#000" stroke-width="2"/>
<line x1="891.00" y1="578.6" x2="891.00" y2="585.6" stroke="#000" stroke-width="2"/>
<line x1="963.30" y1="578.6" x2="963.30" y2="585.6" stroke="#000" stroke-width="2"/>
<line x1="1035.60" y1="578.6" x2="1035.60" y2="585.6" stroke="#000" stroke-width="2"/>
<line x1="1107.90" y1="578.6" x2="1107.90" y2="585.6" stroke="#000" stroke-width="2"/>
<line x1="1180.20" y1="578.6" x2="1180.20" y2="585.6" stroke="#000" stroke-width="2"/>
<line x1="1252.50" y1="578.6" x2="1252.50" y2="585.6" stroke="#000" stroke-width="2"/>
<line x1="1324.80" y1="578.6" x2="1324.80" y2="585.6" stroke="#000" stroke-width="2"/>
<line x1="844.6" y1="578.50" x2="837.6" y2="578.50" stroke="#000" stroke-width="2"/>
<line x1="844.6" y1="465.00" x2="837.6" y2="465.00" stroke="#000" stroke-width="2"/>
<line x1="844.6" y1="351.50" x2="837.6" y2="351.50" stroke="#000" stroke-width="2"/>
<line x1="844.6" y1="238.00" x2="837.6" y2="238.00" stroke="#000" stroke-width="2"/>
<line x1="844.6" y1="124.50" x2="837.6" y2="124.50" stroke="#000" stroke-width="2"/>
<rect x="617.5" y="690.2" width="278.6" height="37.9" fill="#fff" stroke="#000" stroke-width="2"/>
<line x1="624.9" y1="711.2" x2="661" y2="711.2" stroke="#0c64ab" stroke-width="2.5"/>
<line x1="789.5" y1="711.3" x2="825.8" y2="711.3" stroke="#ec6e02" stroke-width="2.5"/>
<g style="will-change:transform">
<text x="359.40" y="28.20">(a)</text>
<text x="1094.20" y="28.20">(b)</text>
<text x="88.30" y="528.90">0</text>
<text x="176.20" y="614.6" text-anchor="middle">0</text>
<text x="61.30" y="464.76">0.2</text>
<text x="240.98" y="614.6" text-anchor="middle">0.2</text>
<text x="61.30" y="400.62">0.4</text>
<text x="305.76" y="614.6" text-anchor="middle">0.4</text>
<text x="61.30" y="336.48">0.6</text>
<text x="370.54" y="614.6" text-anchor="middle">0.6</text>
<text x="61.30" y="272.34">0.8</text>
<text x="435.32" y="614.6" text-anchor="middle">0.8</text>
<text x="61.30" y="208.20">1.0</text>
<text x="500.10" y="614.6" text-anchor="middle">1.0</text>
<text x="61.30" y="144.06">1.2</text>
<text x="564.88" y="614.6" text-anchor="middle">1.2</text>
<text x="61.30" y="79.92">1.4</text>
<text x="629.66" y="614.6" text-anchor="middle">1.4</text>
<text x="815.10" y="591.00">0</text>
<text x="788.10" y="477.50">0.2</text>
<text x="788.10" y="364.00">0.4</text>
<text x="788.10" y="250.50">0.6</text>
<text x="788.10" y="137.00">0.8</text>
<text x="848.60" y="615.00">−1.2</text>
<text x="922.10" y="615.00">−1.0</text>
<text x="996.50" y="615.00">−0.8</text>
<text x="1070.40" y="615.00">−0.6</text>
<text x="1144.30" y="615.00">−0.4</text>
<text x="1218.00" y="615.00">−0.2</text>
<text x="1316.10" y="615.00">0</text>
<text x="222.80" y="662.70">Training set Sharpe ratio</text>
<text x="931.20" y="662.70">Linear regression slopes</text>
<text x="0" y="0" transform="translate(28.90,474.50) rotate(-90)">Test set Sharpe ratio</text>
<text x="0" y="0" transform="translate(758.90,397.50) rotate(-90)">Probability</text>
<text x="677.10" y="720.30">Model</text>
<text x="836.70" y="720.3">1/<tspan font-style="italic">N</tspan></text>
</g>
</svg>
</body></html>
